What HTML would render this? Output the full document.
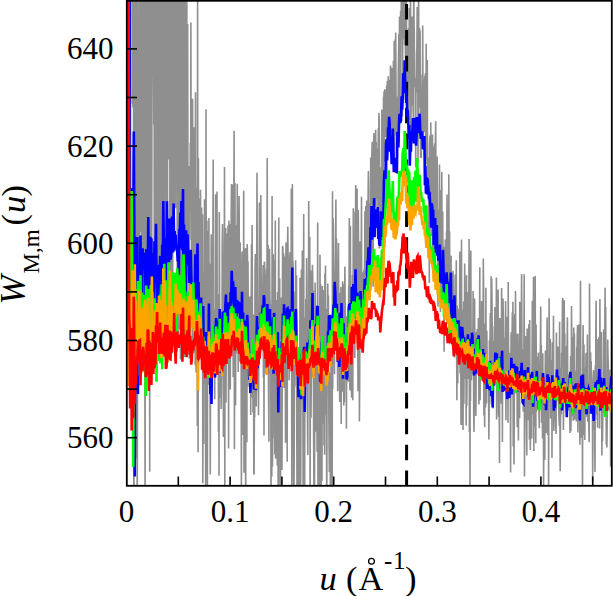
<!DOCTYPE html>
<html><head><meta charset="utf-8"><style>
html,body{margin:0;padding:0;background:#fff;width:613px;height:596px;overflow:hidden}
svg{display:block}
text{font-family:"Liberation Serif",serif;fill:#000}
</style></head><body>
<svg width="613" height="596" viewBox="0 0 613 596">
<defs><clipPath id="c"><rect x="127" y="1" width="484.5" height="484.5"/></clipPath></defs>
<g clip-path="url(#c)">
<path d="M126.5 -30.0L126.8 -30.0 127.1 -30.0 127.4 -30.0 127.7 -30.0 128.0 -30.0 128.2 -30.0 128.5 -30.0 128.8 -30.0 129.1 -30.0 129.4 -30.0 129.7 -30.0 130.0 -30.0 130.3 -30.0 130.6 -30.0 130.9 -30.0 131.1 -30.0 131.4 -30.0 131.7 -30.0 132.0 -30.0 132.3 103.7 132.6 -3.8 132.9 107.4 133.2 -30.0 133.5 -30.0 133.8 520.0 134.0 520.0 134.3 84.9 134.6 177.0 134.9 -30.0 135.2 -30.0 135.5 -30.0 135.8 458.7 136.1 170.1 136.4 -30.0 136.7 -30.0 136.9 -30.0 137.2 510.6 137.5 392.8 137.8 -30.0 138.1 -17.4 138.4 357.2 138.7 287.1 139.0 51.8 139.3 350.6 139.6 63.1 139.8 -0.6 140.1 25.5 140.4 232.3 140.7 -30.0 141.0 -30.0 141.3 -30.0 141.6 342.2 141.9 -30.0 142.2 218.8 142.5 -30.0 142.7 350.9 143.0 -30.0 143.3 29.5 143.6 346.9 143.9 151.9 144.2 6.9 144.5 -30.0 144.8 345.4 145.1 510.6 145.4 -30.0 145.6 222.6 145.9 -30.0 146.2 -30.0 146.5 357.0 146.8 -30.0 147.1 -30.0 147.4 136.8 147.7 343.5 148.0 -30.0 148.3 -30.0 148.5 -30.0 148.8 165.2 149.1 346.9 149.4 57.9 149.7 471.7 150.0 -30.0 150.3 -30.0 150.6 349.8 150.9 346.9 151.2 -30.0 151.4 -30.0 151.7 266.1 152.0 20.5 152.3 -30.0 152.6 -30.0 152.9 -30.0 153.2 -30.0 153.5 66.0 153.8 124.6 154.1 -30.0 154.3 352.5 154.6 75.5 154.9 14.6 155.2 347.9 155.5 -30.0 155.8 280.4 156.1 -30.0 156.4 79.5 156.7 -30.0 157.0 -30.0 157.2 -30.0 157.5 347.6 157.8 350.9 158.1 -30.0 158.4 67.9 158.7 286.2 159.0 -30.0 159.3 83.1 159.6 -30.0 159.9 4.5 160.1 12.7 160.4 293.9 160.7 -30.0 161.0 358.9 161.3 -30.0 161.6 -30.0 161.9 346.7 162.2 350.3 162.5 -30.0 162.8 -30.0 163.1 345.4 163.3 354.5 163.6 -30.0 163.9 318.7 164.2 192.9 164.5 134.1 164.8 -30.0 165.1 157.7 165.4 -30.0 165.7 76.5 166.0 342.1 166.2 138.9 166.5 350.1 166.8 -2.8 167.1 354.5 167.4 354.4 167.7 -30.0 168.0 25.6 168.3 21.0 168.6 -30.0 168.9 159.5 169.1 83.1 169.4 -30.0 169.7 -30.0 170.0 357.4 170.3 -30.0 170.6 222.1 170.9 357.6 171.2 346.9 171.5 133.6 171.8 -30.0 172.0 351.3 172.3 -30.0 172.6 353.4 172.9 -10.0 173.2 -30.0 173.5 79.3 173.8 232.7 174.1 -30.0 174.4 -30.0 174.7 -30.0 174.9 -30.0 175.2 -30.0 175.5 208.3 175.8 32.4 176.1 20.1 176.4 -30.0 176.7 -1.4 177.0 -30.0 177.3 351.6 177.6 -30.0 177.8 217.7 178.1 347.1 178.4 -30.0 178.7 -30.0 179.0 -30.0 179.3 -30.0 179.6 329.2 179.9 -30.0 180.2 -30.0 180.5 359.6 180.7 293.0 181.0 27.0 181.3 357.9 181.6 -2.2 181.9 177.4 182.2 -30.0 182.5 -30.0 182.8 359.1 183.1 48.7 183.4 345.5 183.6 -30.0 183.9 36.8 184.2 -30.0 184.5 357.1 184.8 -30.0 185.1 -30.0 185.4 338.6 185.7 8.5 186.0 251.8 186.3 117.3 186.5 345.6 186.8 -30.0 187.1 308.2 187.4 188.5 187.7 24.0 188.0 271.4 188.3 189.4 188.6 243.4 188.9 166.1 189.2 358.6 189.4 223.5 189.7 176.8 190.0 205.8 190.3 142.8 190.6 209.7 190.9 22.4 191.2 240.1 191.5 210.4 191.8 290.6 192.1 265.6 192.3 351.9 192.6 98.7 192.9 352.9 193.2 303.1 193.5 130.9 193.8 127.3 194.1 260.6 194.4 353.4 194.7 149.5 195.0 175.7 195.2 365.2 195.5 92.2 195.8 310.4 196.1 372.4 196.4 206.6 196.7 241.4 197.0 188.1 197.3 426.0 197.6 -2.3 197.9 332.0 198.1 452.3 198.4 158.1 198.7 273.0 199.0 198.5 199.3 287.0 199.6 259.5 199.9 221.0 200.2 335.7 200.5 189.7 200.8 309.0 201.1 347.1 201.3 237.5 201.6 207.6 201.9 283.2 202.2 365.8 202.5 214.3 202.8 483.2 203.1 392.7 203.4 271.7 203.7 444.1 204.0 281.8 204.2 290.2 204.5 199.2 204.8 383.4 205.1 353.0 205.4 255.6 205.7 520.0 206.0 109.2 206.3 342.4 206.6 363.4 206.9 220.5 207.1 294.3 207.4 491.6 207.7 237.4 208.0 230.9 208.3 369.7 208.6 321.5 208.9 217.9 209.2 385.0 209.5 263.9 209.8 272.9 210.0 370.7 210.3 474.4 210.6 340.0 210.9 396.3 211.2 234.2 211.5 308.4 211.8 252.1 212.1 289.3 212.4 265.3 212.7 366.2 212.9 236.8 213.2 159.5 213.5 322.2 213.8 353.8 214.1 311.9 214.4 366.5 214.7 399.2 215.0 309.4 215.3 338.2 215.6 194.3 215.8 283.6 216.1 255.3 216.4 220.4 216.7 321.9 217.0 191.5 217.3 354.6 217.6 372.7 217.9 325.3 218.2 297.4 218.5 432.1 218.7 293.9 219.0 475.8 219.3 212.1 219.6 295.9 219.9 354.5 220.2 397.9 220.5 351.5 220.8 339.7 221.1 408.9 221.4 387.4 221.6 324.9 221.9 364.7 222.2 245.5 222.5 224.0 222.8 288.2 223.1 262.2 223.4 437.0 223.7 257.7 224.0 299.8 224.3 251.4 224.5 166.9 224.8 500.2 225.1 249.8 225.4 381.8 225.7 227.9 226.0 402.4 226.3 338.9 226.6 280.7 226.9 233.5 227.2 263.8 227.4 354.8 227.7 335.6 228.0 225.6 228.3 280.6 228.6 448.4 228.9 220.4 229.2 251.1 229.5 225.9 229.8 325.0 230.1 243.0 230.3 389.4 230.6 224.0 230.9 312.5 231.2 215.5 231.5 183.9 231.8 321.6 232.1 253.3 232.4 252.1 232.7 184.5 233.0 211.5 233.2 377.3 233.5 217.0 233.8 201.6 234.1 130.8 234.4 449.2 234.7 329.4 235.0 183.0 235.3 405.2 235.6 404.5 235.9 259.7 236.2 225.3 236.4 353.5 236.7 235.4 237.0 265.0 237.3 183.8 237.6 279.5 237.9 208.8 238.2 372.1 238.5 300.3 238.8 280.7 239.1 196.0 239.3 242.4 239.6 361.8 239.9 243.2 240.2 242.4 240.5 309.8 240.8 332.8 241.1 333.8 241.4 493.3 241.7 290.4 242.0 251.9 242.2 365.4 242.5 251.2 242.8 435.0 243.1 351.4 243.4 362.1 243.7 190.7 244.0 472.7 244.3 270.8 244.6 248.5 244.9 296.3 245.1 254.1 245.4 409.1 245.7 520.0 246.0 247.9 246.3 430.6 246.6 357.8 246.9 442.3 247.2 244.1 247.5 256.1 247.8 386.9 248.0 261.6 248.3 316.7 248.6 340.3 248.9 325.6 249.2 354.5 249.5 296.8 249.8 318.5 250.1 387.7 250.4 296.2 250.7 415.0 250.9 326.3 251.2 310.4 251.5 244.3 251.8 397.4 252.1 225.1 252.4 315.2 252.7 355.2 253.0 412.6 253.3 314.6 253.6 354.6 253.8 473.6 254.1 474.6 254.4 412.8 254.7 416.9 255.0 271.2 255.3 253.9 255.6 294.2 255.9 347.9 256.2 406.4 256.5 329.4 256.7 262.2 257.0 172.7 257.3 269.0 257.6 368.1 257.9 325.6 258.2 374.9 258.5 415.2 258.8 345.0 259.1 294.3 259.4 202.6 259.6 331.0 259.9 241.9 260.2 206.7 260.5 297.6 260.8 194.9 261.1 254.3 261.4 349.8 261.7 300.2 262.0 302.3 262.3 315.4 262.5 316.1 262.8 287.8 263.1 265.0 263.4 377.7 263.7 283.4 264.0 435.6 264.3 262.6 264.6 261.8 264.9 307.5 265.2 299.2 265.4 274.8 265.7 367.4 266.0 324.5 266.3 275.9 266.6 268.5 266.9 327.3 267.2 158.0 267.5 305.6 267.8 255.1 268.1 245.1 268.3 329.2 268.6 400.3 268.9 441.7 269.2 309.6 269.5 248.8 269.8 292.9 270.1 302.4 270.4 374.4 270.7 304.3 271.0 520.0 271.2 319.6 271.5 344.2 271.8 476.6 272.1 196.0 272.4 466.4 272.7 430.5 273.0 438.2 273.3 254.2 273.6 424.4 273.9 275.4 274.2 260.4 274.4 295.2 274.7 454.6 275.0 382.1 275.3 220.6 275.6 458.8 275.9 420.5 276.2 361.9 276.5 300.0 276.8 336.6 277.1 311.7 277.3 465.4 277.6 292.0 277.9 326.9 278.2 520.0 278.5 284.8 278.8 217.5 279.1 428.9 279.4 346.5 279.7 278.3 280.0 518.1 280.2 520.0 280.5 486.1 280.8 397.9 281.1 394.9 281.4 297.6 281.7 319.4 282.0 469.9 282.3 331.0 282.6 245.9 282.9 248.4 283.1 262.2 283.4 336.7 283.7 253.4 284.0 388.0 284.3 270.9 284.6 338.1 284.9 256.4 285.2 296.8 285.5 442.8 285.8 317.1 286.0 242.5 286.3 418.1 286.6 353.5 286.9 384.5 287.2 461.8 287.5 247.4 287.8 226.4 288.1 258.1 288.4 307.6 288.7 343.7 288.9 303.5 289.2 380.2 289.5 264.9 289.8 256.3 290.1 252.0 290.4 366.0 290.7 320.2 291.0 323.4 291.3 188.6 291.6 298.1 291.8 503.4 292.1 265.8 292.4 184.1 292.7 275.3 293.0 261.6 293.3 300.4 293.6 520.0 293.9 520.0 294.2 452.7 294.5 336.2 294.7 315.7 295.0 291.4 295.3 355.6 295.6 260.3 295.9 338.2 296.2 386.6 296.5 275.2 296.8 434.0 297.1 520.0 297.4 468.2 297.6 352.9 297.9 520.0 298.2 396.2 298.5 398.0 298.8 492.9 299.1 490.4 299.4 393.8 299.7 405.1 300.0 277.8 300.3 341.9 300.5 520.0 300.8 465.2 301.1 335.8 301.4 269.5 301.7 348.7 302.0 341.4 302.3 250.6 302.6 355.9 302.9 404.0 303.2 520.0 303.4 411.8 303.7 214.0 304.0 473.4 304.3 340.3 304.6 516.8 304.9 368.6 305.2 317.2 305.5 376.2 305.8 299.1 306.1 311.8 306.3 333.1 306.6 258.0 306.9 306.1 307.2 377.5 307.5 425.3 307.8 454.9 308.1 329.8 308.4 380.2 308.7 201.0 309.0 248.6 309.3 363.1 309.5 368.4 309.8 236.8 310.1 518.3 310.4 368.7 310.7 270.5 311.0 417.8 311.3 379.3 311.6 364.6 311.9 282.9 312.2 296.6 312.4 264.8 312.7 275.7 313.0 330.5 313.3 290.5 313.6 431.4 313.9 484.6 314.2 511.6 314.5 496.3 314.8 390.6 315.1 282.6 315.3 318.5 315.6 381.1 315.9 431.7 316.2 375.1 316.5 355.7 316.8 367.2 317.1 451.7 317.4 339.8 317.7 222.5 318.0 517.2 318.2 334.7 318.5 520.0 318.8 322.4 319.1 428.0 319.4 520.0 319.7 348.5 320.0 254.8 320.3 346.3 320.6 284.0 320.9 356.9 321.1 520.0 321.4 337.5 321.7 388.5 322.0 481.0 322.3 285.9 322.6 321.9 322.9 394.1 323.2 290.1 323.5 423.7 323.8 320.1 324.0 445.4 324.3 320.2 324.6 454.8 324.9 273.6 325.2 334.2 325.5 265.5 325.8 415.2 326.1 390.0 326.4 318.5 326.7 520.0 326.9 465.9 327.2 309.1 327.5 331.8 327.8 283.6 328.1 350.9 328.4 295.5 328.7 386.6 329.0 435.0 329.3 471.9 329.6 387.3 329.8 375.7 330.1 372.2 330.4 520.0 330.7 484.9 331.0 380.6 331.3 317.7 331.6 365.2 331.9 379.7 332.2 487.7 332.5 191.2 332.7 388.7 333.0 217.8 333.3 224.9 333.6 287.2 333.9 338.5 334.2 277.7 334.5 374.3 334.8 272.0 335.1 283.7 335.4 255.6 335.6 236.6 335.9 199.5 336.2 325.2 336.5 238.5 336.8 347.3 337.1 361.7 337.4 350.2 337.7 391.2 338.0 270.3 338.3 256.7 338.5 242.9 338.8 328.2 339.1 313.8 339.4 367.3 339.7 402.0 340.0 293.8 340.3 293.4 340.6 382.6 340.9 287.0 341.2 424.1 341.4 299.3 341.7 341.3 342.0 347.6 342.3 391.8 342.6 281.2 342.9 321.3 343.2 284.0 343.5 315.6 343.8 405.4 344.1 347.9 344.4 402.2 344.6 302.4 344.9 266.5 345.2 316.3 345.5 376.7 345.8 358.5 346.1 316.3 346.4 428.8 346.7 338.4 347.0 337.0 347.3 376.9 347.5 346.9 347.8 306.6 348.1 380.2 348.4 381.6 348.7 286.0 349.0 304.9 349.3 218.1 349.6 352.0 349.9 390.0 350.2 226.0 350.4 226.9 350.7 328.5 351.0 390.9 351.3 324.0 351.6 397.8 351.9 286.0 352.2 392.0 352.5 274.9 352.8 400.2 353.1 285.0 353.3 208.2 353.6 289.3 353.9 245.7 354.2 319.1 354.5 328.7 354.8 358.1 355.1 211.4 355.4 267.2 355.7 185.0 356.0 332.9 356.2 273.3 356.5 253.8 356.8 191.2 357.1 188.4 357.4 289.1 357.7 328.2 358.0 391.3 358.3 209.8 358.6 259.3 358.9 295.9 359.1 267.9 359.4 421.6 359.7 382.6 360.0 241.4 360.3 265.7 360.6 271.1 360.9 343.6 361.2 266.8 361.5 196.7 361.8 350.0 362.0 284.5 362.3 314.7 362.6 280.0 362.9 284.9 363.2 272.2 363.5 314.0 363.8 270.2 364.1 304.3 364.4 274.7 364.7 255.1 364.9 211.2 365.2 275.7 365.5 269.3 365.8 206.1 366.1 266.8 366.4 263.1 366.7 200.4 367.0 225.8 367.3 228.7 367.6 215.7 367.8 284.4 368.1 196.3 368.4 170.9 368.7 188.2 369.0 297.5 369.3 212.4 369.6 270.5 369.9 225.8 370.2 203.2 370.5 266.3 370.7 157.6 371.0 203.4 371.3 160.5 371.6 168.4 371.9 151.8 372.2 141.8 372.5 271.3 372.8 193.2 373.1 286.8 373.4 215.5 373.6 159.4 373.9 133.1 374.2 154.7 374.5 203.9 374.8 167.5 375.1 168.2 375.4 147.8 375.7 129.7 376.0 206.9 376.3 142.0 376.5 181.1 376.8 199.1 377.1 163.1 377.4 149.7 377.7 149.4 378.0 220.9 378.3 128.0 378.6 196.6 378.9 112.9 379.2 119.9 379.4 248.4 379.7 238.7 380.0 242.6 380.3 191.1 380.6 188.0 380.9 167.2 381.2 222.7 381.5 168.1 381.8 109.4 382.1 239.9 382.4 197.1 382.6 165.4 382.9 171.8 383.2 178.9 383.5 96.7 383.8 98.6 384.1 91.3 384.4 161.5 384.7 89.3 385.0 91.9 385.3 137.1 385.5 128.3 385.8 122.7 386.1 98.6 386.4 97.3 386.7 85.2 387.0 187.9 387.3 81.0 387.6 135.0 387.9 137.2 388.2 76.3 388.4 112.8 388.7 79.7 389.0 89.7 389.3 144.4 389.6 79.8 389.9 148.8 390.2 96.0 390.5 65.6 390.8 143.5 391.1 67.6 391.3 107.9 391.6 151.4 391.9 101.7 392.2 68.0 392.5 137.9 392.8 78.5 393.1 139.2 393.4 60.7 393.7 97.2 394.0 123.7 394.2 41.0 394.5 161.8 394.8 143.1 395.1 39.6 395.4 121.7 395.7 32.6 396.0 90.6 396.3 135.7 396.6 115.8 396.9 96.4 397.1 103.7 397.4 107.6 397.7 113.9 398.0 146.3 398.3 71.0 398.6 52.2 398.9 34.1 399.2 142.6 399.5 16.6 399.8 54.4 400.0 108.5 400.3 47.4 400.6 10.9 400.9 26.4 401.2 8.7 401.5 -15.1 401.8 -9.2 402.1 47.5 402.4 116.4 402.7 49.9 402.9 1.6 403.2 39.2 403.5 -20.6 403.8 -20.2 404.1 32.3 404.4 -30.0 404.7 45.0 405.0 -30.0 405.3 45.5 405.6 59.9 405.8 2.8 406.1 70.3 406.4 -1.0 406.7 88.5 407.0 45.0 407.3 86.6 407.6 53.5 407.9 58.3 408.2 101.3 408.5 28.1 408.7 120.0 409.0 104.1 409.3 8.1 409.6 21.5 409.9 51.5 410.2 68.9 410.5 -30.0 410.8 132.7 411.1 105.6 411.4 105.2 411.6 23.5 411.9 65.1 412.2 16.6 412.5 21.4 412.8 84.8 413.1 111.3 413.4 120.3 413.7 -30.0 414.0 18.1 414.3 34.1 414.5 77.5 414.8 79.3 415.1 87.2 415.4 78.0 415.7 167.3 416.0 82.6 416.3 92.4 416.6 53.7 416.9 47.9 417.2 7.0 417.5 59.3 417.7 18.3 418.0 162.9 418.3 100.6 418.6 -30.0 418.9 107.8 419.2 73.2 419.5 27.8 419.8 104.8 420.1 30.6 420.4 131.6 420.6 157.7 420.9 139.2 421.2 158.3 421.5 88.8 421.8 100.2 422.1 74.4 422.4 139.6 422.7 25.4 423.0 104.9 423.3 99.4 423.5 79.6 423.8 122.8 424.1 132.3 424.4 100.3 424.7 75.9 425.0 97.0 425.3 73.6 425.6 148.9 425.9 164.5 426.2 43.7 426.4 139.5 426.7 112.5 427.0 102.8 427.3 60.0 427.6 191.7 427.9 157.4 428.2 160.1 428.5 159.7 428.8 257.0 429.1 164.1 429.3 283.0 429.6 144.6 429.9 137.1 430.2 135.5 430.5 218.0 430.8 122.3 431.1 219.7 431.4 235.9 431.7 226.5 432.0 224.3 432.2 177.1 432.5 134.5 432.8 270.6 433.1 208.6 433.4 146.6 433.7 193.3 434.0 174.3 434.3 263.8 434.6 143.5 434.9 265.4 435.1 196.0 435.4 141.4 435.7 121.3 436.0 195.3 436.3 175.6 436.6 248.5 436.9 241.8 437.2 156.5 437.5 224.5 437.8 241.0 438.0 306.4 438.3 243.9 438.6 209.2 438.9 273.5 439.2 265.5 439.5 164.4 439.8 247.2 440.1 273.2 440.4 312.1 440.7 286.8 440.9 268.1 441.2 190.1 441.5 295.2 441.8 172.1 442.1 306.7 442.4 274.9 442.7 211.6 443.0 267.0 443.3 296.9 443.6 269.5 443.8 246.8 444.1 351.7 444.4 281.6 444.7 278.8 445.0 301.0 445.3 239.6 445.6 297.4 445.9 294.6 446.2 278.9 446.5 231.5 446.7 278.0 447.0 194.6 447.3 321.1 447.6 212.6 447.9 323.6 448.2 294.5 448.5 264.1 448.8 174.2 449.1 246.4 449.4 318.6 449.6 231.5 449.9 313.4 450.2 343.2 450.5 278.6 450.8 294.4 451.1 255.8 451.4 335.5 451.7 287.5 452.0 273.3 452.3 292.3 452.5 305.9 452.8 333.7 453.1 270.7 453.4 323.4 453.7 302.7 454.0 339.8 454.3 314.2 454.6 357.6 454.9 302.3 455.2 274.4 455.5 317.4 455.7 280.5 456.0 311.1 456.3 260.2 456.6 337.9 456.9 400.3 457.2 305.4 457.5 340.5 457.8 383.2 458.1 308.7 458.4 320.1 458.6 309.3 458.9 357.2 459.2 333.8 459.5 326.5 459.8 251.5 460.1 373.6 460.4 347.3 460.7 331.6 461.0 424.8 461.3 417.7 461.5 239.5 461.8 425.1 462.1 309.8 462.4 375.3 462.7 370.5 463.0 430.0 463.3 382.1 463.6 301.5 463.9 404.1 464.2 313.1 464.4 334.8 464.7 263.4 465.0 379.0 465.3 292.3 465.6 306.6 465.9 360.4 466.2 425.4 466.5 275.2 466.8 405.8 467.1 368.7 467.3 311.6 467.6 292.2 467.9 378.9 468.2 350.0 468.5 367.1 468.8 304.0 469.1 239.0 469.4 432.1 469.7 307.8 470.0 486.1 470.2 352.2 470.5 400.9 470.8 250.4 471.1 333.3 471.4 380.1 471.7 370.7 472.0 374.3 472.3 339.1 472.6 356.1 472.9 327.2 473.1 291.0 473.4 326.2 473.7 413.3 474.0 431.9 474.3 387.2 474.6 298.4 474.9 366.2 475.2 384.6 475.5 345.8 475.8 416.0 476.0 404.5 476.3 332.0 476.6 372.3 476.9 372.0 477.2 328.9 477.5 369.5 477.8 374.4 478.1 365.8 478.4 318.1 478.7 341.3 478.9 404.4 479.2 373.3 479.5 326.5 479.8 267.2 480.1 400.3 480.4 331.9 480.7 357.9 481.0 316.1 481.3 345.1 481.6 301.0 481.8 341.9 482.1 380.8 482.4 375.5 482.7 341.6 483.0 346.9 483.3 258.6 483.6 289.9 483.9 415.5 484.2 341.3 484.5 410.0 484.7 427.2 485.0 323.5 485.3 335.8 485.6 407.6 485.9 287.7 486.2 399.6 486.5 403.5 486.8 330.5 487.1 356.4 487.4 371.0 487.6 367.7 487.9 361.6 488.2 374.1 488.5 364.6 488.8 439.6 489.1 416.2 489.4 340.3 489.7 404.3 490.0 342.6 490.3 313.1 490.6 392.2 490.8 362.3 491.1 276.2 491.4 330.8 491.7 278.2 492.0 301.0 492.3 341.0 492.6 377.2 492.9 404.8 493.2 408.5 493.5 340.7 493.7 347.3 494.0 372.9 494.3 326.3 494.6 384.9 494.9 307.1 495.2 348.3 495.5 355.1 495.8 362.8 496.1 364.9 496.4 277.4 496.6 419.4 496.9 338.4 497.2 300.8 497.5 328.0 497.8 373.0 498.1 289.6 498.4 412.7 498.7 417.0 499.0 329.8 499.3 421.2 499.5 463.0 499.8 318.1 500.1 319.6 500.4 318.6 500.7 375.9 501.0 356.2 501.3 403.8 501.6 287.9 501.9 327.1 502.2 328.6 502.4 441.9 502.7 325.1 503.0 298.6 503.3 315.4 503.6 339.4 503.9 367.3 504.2 378.2 504.5 338.3 504.8 347.1 505.1 353.5 505.3 379.2 505.6 301.1 505.9 420.2 506.2 370.7 506.5 388.5 506.8 320.9 507.1 316.7 507.4 324.7 507.7 333.4 508.0 422.8 508.2 282.0 508.5 345.3 508.8 371.3 509.1 372.0 509.4 389.4 509.7 352.7 510.0 355.8 510.3 384.6 510.6 472.5 510.9 358.3 511.1 334.7 511.4 332.2 511.7 368.3 512.0 344.6 512.3 312.5 512.6 374.1 512.9 301.8 513.2 446.4 513.5 420.3 513.8 401.8 514.0 464.6 514.3 407.3 514.6 316.3 514.9 314.1 515.2 357.2 515.5 290.9 515.8 356.6 516.1 393.5 516.4 362.6 516.7 375.2 516.9 334.1 517.2 427.3 517.5 333.6 517.8 395.8 518.1 346.0 518.4 440.5 518.7 391.2 519.0 368.2 519.3 334.1 519.6 418.3 519.8 301.7 520.1 346.2 520.4 386.2 520.7 317.1 521.0 363.2 521.3 323.0 521.6 273.9 521.9 338.8 522.2 403.2 522.5 397.1 522.7 348.9 523.0 363.3 523.3 411.8 523.6 402.5 523.9 345.3 524.2 274.3 524.5 476.6 524.8 348.3 525.1 381.8 525.4 336.2 525.7 339.1 525.9 374.8 526.2 414.4 526.5 430.0 526.8 455.5 527.1 328.6 527.4 378.6 527.7 386.7 528.0 371.1 528.3 420.3 528.6 358.5 528.8 324.3 529.1 332.9 529.4 439.7 529.7 320.1 530.0 402.9 530.3 450.1 530.6 421.9 530.9 411.5 531.2 373.8 531.5 420.6 531.7 438.4 532.0 380.2 532.3 300.8 532.6 414.5 532.9 362.4 533.2 373.1 533.5 276.8 533.8 450.9 534.1 327.6 534.4 426.5 534.6 404.5 534.9 380.0 535.2 276.1 535.5 397.3 535.8 443.3 536.1 324.6 536.4 412.0 536.7 382.1 537.0 374.0 537.3 372.7 537.5 377.9 537.8 356.8 538.1 364.2 538.4 352.4 538.7 399.1 539.0 412.3 539.3 428.2 539.6 363.4 539.9 390.2 540.2 355.1 540.4 347.4 540.7 306.5 541.0 366.1 541.3 344.9 541.6 422.8 541.9 416.2 542.2 392.6 542.5 438.4 542.8 353.2 543.1 430.6 543.3 377.8 543.6 485.2 543.9 430.8 544.2 400.7 544.5 398.9 544.8 460.1 545.1 380.3 545.4 350.4 545.7 363.8 546.0 411.2 546.2 406.9 546.5 433.1 546.8 355.1 547.1 317.4 547.4 388.7 547.7 435.0 548.0 371.0 548.3 355.7 548.6 487.4 548.9 370.8 549.1 298.3 549.4 350.4 549.7 359.7 550.0 365.2 550.3 339.1 550.6 418.6 550.9 413.1 551.2 359.9 551.5 408.6 551.8 377.5 552.0 457.9 552.3 342.3 552.6 349.0 552.9 384.0 553.2 371.5 553.5 315.8 553.8 431.0 554.1 418.7 554.4 417.4 554.7 393.6 554.9 421.2 555.2 379.5 555.5 404.3 555.8 427.1 556.1 433.9 556.4 332.6 556.7 385.2 557.0 393.0 557.3 379.4 557.6 381.1 557.8 346.5 558.1 353.5 558.4 400.5 558.7 408.8 559.0 417.6 559.3 425.6 559.6 321.8 559.9 421.9 560.2 471.2 560.5 419.4 560.7 415.0 561.0 368.3 561.3 414.3 561.6 352.8 561.9 367.4 562.2 339.1 562.5 298.9 562.8 298.0 563.1 325.2 563.4 430.0 563.7 406.7 563.9 376.5 564.2 300.3 564.5 354.0 564.8 333.6 565.1 389.4 565.4 359.9 565.7 354.3 566.0 402.3 566.3 355.1 566.6 346.0 566.8 395.5 567.1 344.9 567.4 317.3 567.7 377.9 568.0 382.7 568.3 400.2 568.6 410.6 568.9 374.5 569.2 401.6 569.5 398.8 569.7 409.2 570.0 432.9 570.3 401.3 570.6 356.1 570.9 431.3 571.2 403.8 571.5 306.0 571.8 336.9 572.1 416.3 572.4 361.5 572.6 416.0 572.9 336.9 573.2 420.7 573.5 383.6 573.8 327.6 574.1 412.2 574.4 333.5 574.7 419.7 575.0 370.4 575.3 389.9 575.5 382.5 575.8 372.4 576.1 381.1 576.4 421.4 576.7 347.3 577.0 355.5 577.3 333.0 577.6 325.0 577.9 432.6 578.2 326.6 578.4 333.6 578.7 413.6 579.0 343.7 579.3 324.0 579.6 411.8 579.9 444.8 580.2 390.9 580.5 280.8 580.8 381.6 581.1 437.7 581.3 394.0 581.6 422.0 581.9 396.9 582.2 380.1 582.5 488.1 582.8 363.1 583.1 324.9 583.4 393.0 583.7 402.5 584.0 344.6 584.2 434.8 584.5 432.1 584.8 440.0 585.1 389.6 585.4 367.5 585.7 382.5 586.0 353.8 586.3 353.0 586.6 371.3 586.9 417.1 587.1 392.2 587.4 334.4 587.7 421.7 588.0 382.0 588.3 392.8 588.6 387.7 588.9 429.4 589.2 442.3 589.5 283.5 589.8 343.9 590.0 408.9 590.3 381.3 590.6 352.2 590.9 396.5 591.2 361.2 591.5 409.6 591.8 399.9 592.1 392.0 592.4 405.0 592.7 481.8 592.9 382.1 593.2 376.5 593.5 370.1 593.8 429.8 594.1 370.7 594.4 372.6 594.7 452.4 595.0 471.9 595.3 365.3 595.6 420.0 595.8 339.3 596.1 300.8 596.4 411.4 596.7 414.6 597.0 382.9 597.3 350.6 597.6 427.8 597.9 339.1 598.2 341.9 598.5 348.6 598.8 394.4 599.0 336.8 599.3 343.2 599.6 428.5 599.9 299.0 600.2 395.2 600.5 370.4 600.8 400.5 601.1 360.2 601.4 332.0 601.7 414.4 601.9 455.4 602.2 406.8 602.5 441.3 602.8 413.1 603.1 382.3 603.4 383.2 603.7 329.5 604.0 413.2 604.3 358.3 604.6 400.5 604.8 330.2 605.1 287.8 605.4 366.0 605.7 306.9 606.0 397.3 606.3 444.7 606.6 434.0 606.9 447.4 607.2 421.0 607.5 392.7 607.7 339.4 608.0 356.5 608.3 365.4 608.6 401.2 608.9 410.7 609.2 373.8 609.5 373.5 609.8 376.4 610.1 369.6 610.4 386.9 610.6 466.5 610.9 431.8 611.2 407.3 611.5 305.8 611.8 396.1" stroke="#8f8f8f" stroke-width="1.6" fill="none" stroke-linejoin="miter"/>

<line x1="406.6" y1="4" x2="406.6" y2="486" stroke="#000" stroke-width="3" stroke-dasharray="15.6 10.32"/>
<path d="M126.5 -30.0L127.0 -30.0 127.5 -30.0 128.1 -30.0 128.6 -30.0 129.1 -30.0 129.6 -30.0 130.1 254.5 130.6 216.2 131.2 245.9 131.7 240.5 132.2 188.2 132.7 230.2 133.2 239.4 133.8 131.5 134.3 221.5 134.8 476.6 135.3 236.8 135.8 270.8 136.3 243.6 136.9 296.9 137.4 237.1 137.9 394.0 138.4 265.0 138.9 268.7 139.4 303.2 140.0 276.8 140.5 235.6 141.0 310.4 141.5 325.5 142.0 322.3 142.6 248.2 143.1 269.6 143.6 252.9 144.1 268.9 144.6 254.2 145.1 266.1 145.7 302.9 146.2 248.9 146.7 303.0 147.2 283.6 147.7 279.1 148.3 217.0 148.8 309.8 149.3 296.9 149.8 293.1 150.3 236.8 150.8 291.7 151.4 238.2 151.9 322.1 152.4 254.6 152.9 253.4 153.4 323.6 154.0 271.9 154.5 241.2 155.0 282.0 155.5 250.6 156.0 223.8 156.5 278.9 157.1 308.4 157.6 312.7 158.1 268.6 158.6 281.8 159.1 264.9 159.7 275.5 160.2 255.9 160.7 297.1 161.2 326.5 161.7 332.6 162.2 244.7 162.8 269.2 163.3 201.1 163.8 240.9 164.3 267.4 164.8 238.3 165.3 251.4 165.9 296.1 166.4 288.1 166.9 201.3 167.4 244.5 167.9 245.1 168.5 253.7 169.0 262.6 169.5 218.6 170.0 252.6 170.5 259.5 171.0 256.5 171.6 247.9 172.1 216.6 172.6 221.3 173.1 252.5 173.6 203.4 174.2 250.8 174.7 231.1 175.2 242.8 175.7 234.9 176.2 244.0 176.7 245.5 177.3 253.1 177.8 261.3 178.3 254.1 178.8 274.6 179.3 229.0 179.9 230.7 180.4 212.6 180.9 248.6 181.4 201.0 181.9 229.6 182.4 250.3 183.0 189.0 183.5 279.2 184.0 224.5 184.5 293.2 185.0 246.3 185.6 296.5 186.1 230.2 186.6 261.2 187.1 265.0 187.6 234.3 188.1 255.1 188.7 254.2 189.2 283.0 189.7 251.0 190.2 262.9 190.7 249.7 191.2 272.8 191.8 294.2 192.3 284.1 192.8 295.8 193.3 304.8 193.8 291.5 194.4 296.3 194.9 286.6 195.4 254.3 195.9 308.9 196.4 285.3 196.9 296.9 197.5 243.4 198.0 339.2 198.5 282.0 199.0 316.5 199.5 332.6 200.1 299.5 200.6 328.4 201.1 297.5 201.6 338.9 202.1 313.2 202.6 355.6 203.2 306.0 203.7 354.5 204.2 332.8 204.7 363.2 205.2 340.6 205.8 369.6 206.3 332.1 206.8 356.1 207.3 354.6 207.8 346.4 208.3 371.8 208.9 303.5 209.4 360.9 209.9 358.8 210.4 394.3 210.9 356.0 211.5 403.9 212.0 348.0 212.5 332.9 213.0 339.9 213.5 326.3 214.0 331.1 214.6 372.6 215.1 377.5 215.6 332.6 216.1 318.1 216.6 347.2 217.2 320.8 217.7 326.9 218.2 353.2 218.7 330.7 219.2 372.1 219.7 309.0 220.3 342.6 220.8 372.9 221.3 343.0 221.8 354.2 222.3 352.4 222.8 311.7 223.4 333.8 223.9 344.2 224.4 310.9 224.9 326.2 225.4 305.3 226.0 294.6 226.5 342.4 227.0 311.0 227.5 306.8 228.0 302.4 228.5 311.6 229.1 324.4 229.6 308.6 230.1 354.4 230.6 292.2 231.1 303.7 231.7 270.8 232.2 290.7 232.7 285.1 233.2 284.3 233.7 293.1 234.2 332.6 234.8 310.3 235.3 287.0 235.8 326.2 236.3 323.8 236.8 299.8 237.4 310.0 237.9 300.9 238.4 313.2 238.9 305.6 239.4 302.4 239.9 305.3 240.5 340.3 241.0 320.0 241.5 346.3 242.0 291.8 242.5 346.5 243.1 312.4 243.6 347.2 244.1 338.7 244.6 354.2 245.1 348.5 245.6 320.4 246.2 330.0 246.7 326.8 247.2 314.9 247.7 327.0 248.2 352.1 248.7 343.7 249.3 379.9 249.8 360.0 250.3 393.0 250.8 382.3 251.3 371.1 251.9 362.5 252.4 344.5 252.9 359.7 253.4 367.5 253.9 389.4 254.4 386.4 255.0 375.3 255.5 362.2 256.0 390.2 256.5 343.3 257.0 315.9 257.6 368.3 258.1 339.7 258.6 360.0 259.1 328.0 259.6 329.3 260.1 326.2 260.7 312.8 261.2 318.5 261.7 329.7 262.2 315.7 262.7 305.2 263.3 313.4 263.8 295.3 264.3 298.9 264.8 334.1 265.3 341.1 265.8 321.3 266.4 329.3 266.9 373.9 267.4 303.9 267.9 338.3 268.4 310.0 269.0 325.1 269.5 332.1 270.0 308.9 270.5 364.7 271.0 322.0 271.5 353.2 272.1 354.7 272.6 327.0 273.1 317.4 273.6 373.8 274.1 312.9 274.6 337.9 275.2 349.2 275.7 351.0 276.2 367.9 276.7 358.9 277.2 369.4 277.8 332.3 278.3 412.6 278.8 356.2 279.3 359.1 279.8 379.1 280.3 386.9 280.9 369.0 281.4 353.1 281.9 341.4 282.4 373.7 282.9 313.6 283.5 346.6 284.0 304.2 284.5 328.6 285.0 318.5 285.5 350.4 286.0 325.6 286.6 314.8 287.1 308.7 287.6 308.3 288.1 316.9 288.6 348.3 289.2 309.1 289.7 337.9 290.2 325.8 290.7 350.0 291.2 316.4 291.7 326.6 292.3 267.5 292.8 347.5 293.3 312.1 293.8 347.9 294.3 340.2 294.9 347.2 295.4 341.7 295.9 308.9 296.4 335.7 296.9 361.1 297.4 368.6 298.0 369.4 298.5 397.3 299.0 353.8 299.5 355.2 300.0 361.5 300.5 393.3 301.1 399.2 301.6 387.5 302.1 360.5 302.6 366.0 303.1 388.8 303.7 351.3 304.2 346.8 304.7 411.9 305.2 368.0 305.7 350.7 306.2 362.8 306.8 359.2 307.3 342.6 307.8 369.8 308.3 362.5 308.8 364.4 309.4 339.7 309.9 353.3 310.4 320.2 310.9 323.0 311.4 336.2 311.9 329.9 312.5 293.1 313.0 352.3 313.5 376.5 314.0 347.7 314.5 342.2 315.1 356.0 315.6 328.4 316.1 324.3 316.6 336.3 317.1 307.1 317.6 306.0 318.2 340.0 318.7 335.6 319.2 370.2 319.7 362.4 320.2 381.9 320.8 356.7 321.3 386.2 321.8 343.6 322.3 341.3 322.8 351.8 323.3 355.0 323.9 375.0 324.4 365.0 324.9 360.3 325.4 365.6 325.9 358.0 326.4 376.4 327.0 365.8 327.5 369.1 328.0 331.6 328.5 341.9 329.0 315.3 329.6 347.1 330.1 314.9 330.6 317.6 331.1 364.8 331.6 332.9 332.1 321.5 332.7 322.4 333.2 311.3 333.7 304.7 334.2 308.9 334.7 281.8 335.3 293.6 335.8 311.3 336.3 307.3 336.8 303.9 337.3 323.8 337.8 361.9 338.4 313.8 338.9 340.0 339.4 366.9 339.9 329.3 340.4 312.5 341.0 341.0 341.5 302.9 342.0 331.4 342.5 349.7 343.0 378.8 343.5 323.3 344.1 356.5 344.6 342.6 345.1 349.2 345.6 365.3 346.1 351.1 346.6 379.5 347.2 376.5 347.7 333.3 348.2 351.1 348.7 358.7 349.2 304.0 349.8 315.9 350.3 303.1 350.8 316.8 351.3 351.7 351.8 287.1 352.3 294.7 352.9 294.8 353.4 284.0 353.9 326.5 354.4 298.6 354.9 304.7 355.5 269.3 356.0 299.8 356.5 299.5 357.0 317.8 357.5 292.5 358.0 330.0 358.6 295.6 359.1 304.6 359.6 317.0 360.1 318.6 360.6 290.9 361.2 339.0 361.7 313.2 362.2 321.9 362.7 340.1 363.2 304.4 363.7 306.6 364.3 293.1 364.8 279.1 365.3 282.2 365.8 285.4 366.3 278.9 366.9 277.5 367.4 260.9 367.9 264.0 368.4 248.8 368.9 247.5 369.4 268.7 370.0 260.2 370.5 227.3 371.0 235.7 371.5 206.1 372.0 239.7 372.6 228.6 373.1 229.1 373.6 233.7 374.1 197.9 374.6 237.2 375.1 212.2 375.7 226.3 376.2 226.5 376.7 209.4 377.2 222.3 377.7 207.0 378.2 239.0 378.8 235.6 379.3 243.7 379.8 243.5 380.3 245.9 380.8 211.2 381.4 235.0 381.9 235.2 382.4 220.4 382.9 216.5 383.4 222.2 383.9 181.7 384.5 170.4 385.0 185.9 385.5 176.3 386.0 144.0 386.5 139.4 387.1 160.4 387.6 148.6 388.1 127.4 388.6 131.2 389.1 116.9 389.6 122.1 390.2 151.6 390.7 136.8 391.2 150.9 391.7 164.3 392.2 153.1 392.8 128.6 393.3 147.8 393.8 172.1 394.3 163.6 394.8 162.6 395.3 166.6 395.9 157.8 396.4 172.0 396.9 172.1 397.4 132.1 397.9 143.7 398.4 147.4 399.0 123.4 399.5 113.9 400.0 122.2 400.5 122.0 401.0 120.2 401.6 96.2 402.1 109.9 402.6 100.9 403.1 73.2 403.6 78.3 404.1 87.2 404.7 60.3 405.2 92.7 405.7 90.2 406.2 102.9 406.7 96.4 407.3 116.8 407.8 110.1 408.3 121.7 408.8 138.8 409.3 125.0 409.8 165.7 410.4 144.9 410.9 151.7 411.4 131.1 411.9 140.9 412.4 130.3 413.0 118.1 413.5 136.8 414.0 143.3 414.5 122.2 415.0 140.2 415.5 117.7 416.1 145.7 416.6 134.0 417.1 117.0 417.6 127.1 418.1 133.1 418.7 120.1 419.2 119.9 419.7 113.7 420.2 129.3 420.7 138.7 421.2 137.6 421.8 134.6 422.3 131.4 422.8 147.8 423.3 148.4 423.8 148.3 424.4 135.9 424.9 185.2 425.4 165.8 425.9 193.4 426.4 177.0 426.9 194.4 427.5 178.3 428.0 184.7 428.5 189.3 429.0 199.2 429.5 191.7 430.0 202.0 430.6 207.2 431.1 227.7 431.6 203.3 432.1 206.1 432.6 211.7 433.2 209.8 433.7 245.1 434.2 240.6 434.7 221.2 435.2 217.9 435.7 253.4 436.3 251.0 436.8 225.1 437.3 255.8 437.8 247.3 438.3 260.6 438.9 253.7 439.4 256.5 439.9 244.5 440.4 282.4 440.9 269.7 441.4 278.8 442.0 283.3 442.5 279.5 443.0 249.9 443.5 268.8 444.0 299.4 444.6 282.8 445.1 286.2 445.6 274.2 446.1 302.4 446.6 272.2 447.1 281.3 447.7 282.6 448.2 287.5 448.7 303.2 449.2 284.0 449.7 301.3 450.2 290.8 450.8 272.5 451.3 313.4 451.8 319.8 452.3 299.5 452.8 304.5 453.4 334.3 453.9 336.5 454.4 295.4 454.9 311.0 455.4 334.7 455.9 329.4 456.5 340.8 457.0 320.5 457.5 335.2 458.0 350.0 458.5 320.2 459.1 348.9 459.6 328.2 460.1 326.4 460.6 350.4 461.1 346.2 461.6 342.4 462.2 327.0 462.7 334.0 463.2 338.3 463.7 338.6 464.2 338.6 464.8 353.2 465.3 359.2 465.8 351.2 466.3 348.6 466.8 349.1 467.3 352.0 467.9 334.4 468.4 354.4 468.9 366.8 469.4 355.8 469.9 338.7 470.5 345.4 471.0 352.4 471.5 358.6 472.0 332.8 472.5 336.4 473.0 363.9 473.6 349.0 474.1 375.5 474.6 350.9 475.1 351.6 475.6 373.6 476.2 365.4 476.7 356.2 477.2 338.6 477.7 354.9 478.2 349.6 478.7 335.4 479.3 369.9 479.8 370.8 480.3 355.4 480.8 357.4 481.3 361.9 481.8 370.4 482.4 365.4 482.9 349.0 483.4 377.1 483.9 366.3 484.4 353.0 485.0 356.8 485.5 369.1 486.0 363.1 486.5 361.8 487.0 388.9 487.5 374.2 488.1 385.1 488.6 367.0 489.1 366.3 489.6 390.2 490.1 360.7 490.7 375.4 491.2 396.1 491.7 368.7 492.2 391.3 492.7 407.4 493.2 366.3 493.8 385.7 494.3 379.3 494.8 375.5 495.3 352.5 495.8 366.7 496.4 367.0 496.9 353.3 497.4 373.2 497.9 373.9 498.4 388.1 498.9 368.6 499.5 383.3 500.0 365.3 500.5 357.4 501.0 376.8 501.5 364.6 502.1 350.7 502.6 392.0 503.1 375.7 503.6 391.2 504.1 382.4 504.6 389.6 505.2 377.3 505.7 386.7 506.2 389.6 506.7 376.2 507.2 399.0 507.7 396.1 508.3 370.6 508.8 382.1 509.3 398.0 509.8 378.1 510.3 388.5 510.9 390.1 511.4 357.7 511.9 394.5 512.4 366.4 512.9 373.3 513.4 368.2 514.0 363.7 514.5 377.9 515.0 381.9 515.5 375.2 516.0 374.9 516.6 367.7 517.1 367.9 517.6 391.4 518.1 381.2 518.6 388.7 519.1 384.6 519.7 381.3 520.2 371.1 520.7 373.4 521.2 371.7 521.7 362.7 522.3 390.7 522.8 402.6 523.3 403.3 523.8 382.9 524.3 375.6 524.8 370.1 525.4 378.5 525.9 390.0 526.4 373.1 526.9 381.5 527.4 382.7 528.0 367.4 528.5 390.4 529.0 397.4 529.5 374.9 530.0 395.1 530.5 374.5 531.1 377.5 531.6 384.1 532.1 371.7 532.6 391.1 533.1 406.6 533.6 393.8 534.2 386.6 534.7 384.0 535.2 392.4 535.7 381.2 536.2 394.4 536.8 370.9 537.3 400.8 537.8 389.7 538.3 392.4 538.8 409.7 539.3 393.0 539.9 403.1 540.4 393.7 540.9 389.8 541.4 394.9 541.9 382.0 542.5 396.5 543.0 373.1 543.5 394.4 544.0 395.9 544.5 404.4 545.0 395.5 545.6 392.5 546.1 410.2 546.6 390.0 547.1 390.4 547.6 374.4 548.2 395.2 548.7 377.1 549.2 392.9 549.7 396.4 550.2 389.8 550.7 391.3 551.3 389.2 551.8 397.7 552.3 375.4 552.8 398.7 553.3 385.7 553.9 410.7 554.4 386.0 554.9 407.6 555.4 387.6 555.9 385.3 556.4 381.9 557.0 369.6 557.5 394.1 558.0 376.1 558.5 385.4 559.0 390.4 559.5 395.3 560.1 395.8 560.6 383.2 561.1 390.2 561.6 399.9 562.1 410.4 562.7 394.7 563.2 378.1 563.7 400.4 564.2 390.5 564.7 382.0 565.2 397.4 565.8 395.4 566.3 399.4 566.8 417.3 567.3 390.3 567.8 389.4 568.4 392.1 568.9 403.9 569.4 407.2 569.9 377.8 570.4 371.8 570.9 385.1 571.5 390.4 572.0 399.2 572.5 402.3 573.0 412.1 573.5 403.0 574.1 385.9 574.6 391.3 575.1 384.6 575.6 408.3 576.1 383.3 576.6 389.8 577.2 407.1 577.7 398.7 578.2 390.1 578.7 399.7 579.2 396.1 579.8 420.5 580.3 384.3 580.8 402.8 581.3 375.8 581.8 404.2 582.3 376.4 582.9 374.7 583.4 395.5 583.9 386.7 584.4 392.8 584.9 388.2 585.4 402.8 586.0 388.0 586.5 414.3 587.0 407.9 587.5 399.5 588.0 391.4 588.6 388.6 589.1 390.2 589.6 396.8 590.1 392.8 590.6 391.1 591.1 413.8 591.7 395.2 592.2 403.0 592.7 394.3 593.2 409.9 593.7 420.9 594.3 398.1 594.8 390.5 595.3 386.4 595.8 382.1 596.3 388.9 596.8 396.4 597.4 380.4 597.9 403.3 598.4 384.2 598.9 377.8 599.4 369.1 600.0 393.0 600.5 410.6 601.0 377.6 601.5 399.8 602.0 403.4 602.5 404.1 603.1 399.6 603.6 385.6 604.1 378.2 604.6 401.3 605.1 399.9 605.7 390.6 606.2 387.1 606.7 400.6 607.2 403.0 607.7 404.5 608.2 402.0 608.8 396.0 609.3 397.1 609.8 402.3 610.3 392.5 610.8 384.2 611.3 376.5" stroke="#0000ff" stroke-width="2.6" fill="none" stroke-linejoin="miter"/>
<path d="M126.5 -30.0L127.0 -30.0 127.5 -30.0 128.1 -30.0 128.6 -30.0 129.1 346.1 129.6 287.0 130.1 381.4 130.6 322.8 131.2 350.2 131.7 191.0 132.2 295.2 132.7 307.9 133.2 466.9 133.8 329.9 134.3 340.6 134.8 316.7 135.3 310.1 135.8 322.3 136.3 288.9 136.9 324.3 137.4 310.6 137.9 281.1 138.4 298.2 138.9 327.5 139.4 317.4 140.0 313.7 140.5 275.2 141.0 313.3 141.5 320.9 142.0 292.4 142.6 331.0 143.1 318.0 143.6 295.1 144.1 306.6 144.6 300.3 145.1 295.1 145.7 395.9 146.2 285.5 146.7 334.1 147.2 351.1 147.7 312.3 148.3 288.9 148.8 332.2 149.3 333.9 149.8 313.5 150.3 305.7 150.8 285.0 151.4 293.5 151.9 306.1 152.4 292.1 152.9 321.9 153.4 342.5 154.0 299.7 154.5 298.4 155.0 324.8 155.5 334.2 156.0 316.1 156.5 381.7 157.1 313.9 157.6 313.2 158.1 361.1 158.6 313.9 159.1 328.5 159.7 294.8 160.2 363.2 160.7 333.5 161.2 305.8 161.7 284.2 162.2 369.3 162.8 326.6 163.3 287.8 163.8 310.5 164.3 263.8 164.8 331.5 165.3 294.4 165.9 336.5 166.4 280.3 166.9 301.4 167.4 314.0 167.9 346.3 168.5 262.4 169.0 282.9 169.5 280.2 170.0 277.3 170.5 289.2 171.0 319.6 171.6 305.3 172.1 302.6 172.6 272.1 173.1 323.9 173.6 308.9 174.2 300.3 174.7 288.5 175.2 272.9 175.7 317.2 176.2 337.5 176.7 293.6 177.3 268.3 177.8 283.8 178.3 288.6 178.8 301.8 179.3 279.5 179.9 302.0 180.4 275.6 180.9 328.6 181.4 305.6 181.9 297.1 182.4 285.4 183.0 287.0 183.5 254.2 184.0 270.4 184.5 286.5 185.0 347.2 185.6 310.9 186.1 314.8 186.6 296.1 187.1 342.5 187.6 291.6 188.1 293.6 188.7 329.1 189.2 329.5 189.7 314.9 190.2 304.0 190.7 296.0 191.2 285.1 191.8 320.5 192.3 297.6 192.8 316.2 193.3 282.6 193.8 301.9 194.4 300.5 194.9 345.4 195.4 317.2 195.9 335.2 196.4 299.3 196.9 307.9 197.5 318.7 198.0 356.4 198.5 311.7 199.0 334.2 199.5 348.9 200.1 318.8 200.6 303.2 201.1 328.5 201.6 337.7 202.1 353.0 202.6 364.8 203.2 336.9 203.7 342.8 204.2 353.0 204.7 343.0 205.2 349.3 205.8 354.6 206.3 352.5 206.8 361.3 207.3 351.1 207.8 360.2 208.3 377.8 208.9 336.0 209.4 361.6 209.9 338.5 210.4 377.4 210.9 355.8 211.5 361.9 212.0 352.0 212.5 325.1 213.0 361.2 213.5 337.9 214.0 349.7 214.6 367.7 215.1 355.2 215.6 335.1 216.1 326.5 216.6 342.4 217.2 329.4 217.7 343.6 218.2 340.3 218.7 335.0 219.2 361.1 219.7 318.7 220.3 346.3 220.8 343.4 221.3 341.6 221.8 358.5 222.3 351.0 222.8 333.6 223.4 351.2 223.9 344.1 224.4 331.4 224.9 312.5 225.4 330.1 226.0 315.9 226.5 350.4 227.0 328.6 227.5 332.8 228.0 341.8 228.5 328.2 229.1 322.7 229.6 333.9 230.1 339.8 230.6 308.9 231.1 317.4 231.7 306.1 232.2 310.6 232.7 328.3 233.2 307.6 233.7 315.3 234.2 325.1 234.8 325.0 235.3 313.4 235.8 338.3 236.3 340.8 236.8 316.6 237.4 334.5 237.9 324.3 238.4 330.2 238.9 318.5 239.4 330.3 239.9 337.1 240.5 339.2 241.0 359.9 241.5 355.5 242.0 318.9 242.5 331.7 243.1 325.0 243.6 365.4 244.1 340.6 244.6 344.6 245.1 364.6 245.6 326.6 246.2 339.3 246.7 365.6 247.2 344.7 247.7 344.4 248.2 350.3 248.7 359.6 249.3 353.8 249.8 355.2 250.3 382.0 250.8 369.0 251.3 356.5 251.9 367.0 252.4 339.3 252.9 358.4 253.4 374.8 253.9 377.1 254.4 368.4 255.0 344.2 255.5 359.2 256.0 382.3 256.5 344.2 257.0 334.7 257.6 343.5 258.1 345.9 258.6 349.7 259.1 329.5 259.6 347.1 260.1 349.3 260.7 313.4 261.2 328.1 261.7 338.8 262.2 326.8 262.7 330.6 263.3 317.5 263.8 309.2 264.3 308.8 264.8 332.1 265.3 334.2 265.8 323.9 266.4 328.2 266.9 360.0 267.4 321.5 267.9 341.1 268.4 328.7 269.0 340.1 269.5 341.4 270.0 326.3 270.5 346.5 271.0 344.7 271.5 358.4 272.1 347.7 272.6 335.2 273.1 347.3 273.6 348.8 274.1 316.9 274.6 346.4 275.2 331.2 275.7 343.2 276.2 361.2 276.7 360.1 277.2 375.7 277.8 360.8 278.3 379.5 278.8 368.8 279.3 348.0 279.8 373.3 280.3 363.1 280.9 352.4 281.4 362.7 281.9 355.0 282.4 376.4 282.9 339.5 283.5 361.2 284.0 315.6 284.5 352.0 285.0 350.5 285.5 353.3 286.0 331.4 286.6 326.3 287.1 329.6 287.6 319.2 288.1 330.3 288.6 360.5 289.2 336.5 289.7 342.2 290.2 324.0 290.7 342.8 291.2 316.7 291.7 342.8 292.3 311.5 292.8 343.0 293.3 330.8 293.8 361.1 294.3 349.1 294.9 354.7 295.4 346.7 295.9 339.1 296.4 335.6 296.9 360.8 297.4 351.6 298.0 356.8 298.5 375.3 299.0 347.0 299.5 358.4 300.0 363.3 300.5 375.2 301.1 381.8 301.6 395.2 302.1 359.0 302.6 366.5 303.1 380.6 303.7 355.7 304.2 350.7 304.7 373.0 305.2 377.4 305.7 351.3 306.2 358.5 306.8 360.5 307.3 358.3 307.8 372.4 308.3 353.2 308.8 368.1 309.4 349.0 309.9 343.4 310.4 328.7 310.9 344.6 311.4 355.0 311.9 333.9 312.5 320.0 313.0 345.2 313.5 369.0 314.0 340.4 314.5 351.8 315.1 353.7 315.6 355.2 316.1 348.5 316.6 326.4 317.1 334.6 317.6 315.8 318.2 339.6 318.7 339.0 319.2 364.4 319.7 370.1 320.2 358.7 320.8 354.8 321.3 372.1 321.8 359.9 322.3 336.0 322.8 354.5 323.3 350.2 323.9 370.3 324.4 360.7 324.9 358.4 325.4 357.8 325.9 346.0 326.4 369.6 327.0 365.9 327.5 362.3 328.0 342.8 328.5 356.2 329.0 335.2 329.6 349.3 330.1 339.7 330.6 330.3 331.1 358.7 331.6 339.8 332.1 333.0 332.7 318.4 333.2 334.0 333.7 330.6 334.2 325.1 334.7 319.6 335.3 308.1 335.8 317.6 336.3 330.5 336.8 312.6 337.3 321.2 337.8 341.5 338.4 323.3 338.9 340.2 339.4 343.1 339.9 336.9 340.4 334.7 341.0 333.1 341.5 318.1 342.0 324.0 342.5 356.1 343.0 362.7 343.5 334.2 344.1 345.6 344.6 342.2 345.1 344.4 345.6 350.1 346.1 348.2 346.6 358.7 347.2 353.3 347.7 327.0 348.2 348.1 348.7 344.8 349.2 332.3 349.8 310.4 350.3 317.9 350.8 326.4 351.3 341.1 351.8 313.8 352.3 303.8 352.9 312.6 353.4 301.3 353.9 325.6 354.4 309.2 354.9 317.0 355.5 301.8 356.0 314.3 356.5 308.6 357.0 303.8 357.5 296.3 358.0 330.6 358.6 301.3 359.1 301.1 359.6 317.0 360.1 321.8 360.6 307.5 361.2 330.9 361.7 319.4 362.2 323.4 362.7 322.3 363.2 299.4 363.7 301.8 364.3 312.4 364.8 296.4 365.3 289.5 365.8 308.6 366.3 293.2 366.9 289.1 367.4 291.5 367.9 280.2 368.4 280.6 368.9 265.2 369.4 267.6 370.0 274.6 370.5 271.2 371.0 283.3 371.5 266.8 372.0 263.8 372.6 276.3 373.1 252.5 373.6 280.2 374.1 248.8 374.6 262.3 375.1 261.7 375.7 258.0 376.2 257.0 376.7 269.4 377.2 283.8 377.7 255.0 378.2 280.0 378.8 283.1 379.3 275.2 379.8 277.4 380.3 281.6 380.8 257.5 381.4 269.7 381.9 249.8 382.4 257.4 382.9 247.6 383.4 247.8 383.9 218.9 384.5 220.7 385.0 224.4 385.5 208.7 386.0 201.2 386.5 179.0 387.1 203.5 387.6 193.1 388.1 194.0 388.6 170.4 389.1 182.2 389.6 191.0 390.2 199.0 390.7 202.0 391.2 201.2 391.7 212.4 392.2 198.2 392.8 181.0 393.3 206.9 393.8 220.9 394.3 212.5 394.8 226.1 395.3 237.6 395.9 220.0 396.4 220.8 396.9 209.2 397.4 196.9 397.9 209.1 398.4 202.0 399.0 189.9 399.5 171.0 400.0 173.5 400.5 176.8 401.0 173.4 401.6 170.9 402.1 172.9 402.6 154.0 403.1 150.6 403.6 148.4 404.1 172.3 404.7 131.1 405.2 140.2 405.7 160.0 406.2 167.4 406.7 164.7 407.3 169.7 407.8 182.0 408.3 169.5 408.8 195.3 409.3 172.1 409.8 203.0 410.4 207.1 410.9 201.7 411.4 180.2 411.9 206.4 412.4 196.3 413.0 199.0 413.5 211.0 414.0 177.0 414.5 178.1 415.0 191.1 415.5 170.6 416.1 201.8 416.6 184.8 417.1 158.0 417.6 171.1 418.1 193.0 418.7 200.4 419.2 186.7 419.7 174.7 420.2 187.8 420.7 192.6 421.2 192.9 421.8 201.8 422.3 199.3 422.8 200.5 423.3 199.1 423.8 209.8 424.4 209.0 424.9 224.0 425.4 220.3 425.9 216.2 426.4 205.4 426.9 236.2 427.5 237.9 428.0 229.7 428.5 230.4 429.0 234.3 429.5 232.9 430.0 249.6 430.6 248.0 431.1 246.2 431.6 260.3 432.1 251.1 432.6 249.7 433.2 250.0 433.7 261.7 434.2 257.9 434.7 252.8 435.2 273.6 435.7 274.3 436.3 275.9 436.8 272.7 437.3 265.0 437.8 285.8 438.3 297.0 438.9 287.4 439.4 289.8 439.9 292.0 440.4 302.5 440.9 287.4 441.4 299.7 442.0 302.9 442.5 302.5 443.0 292.4 443.5 293.7 444.0 316.6 444.6 294.4 445.1 301.7 445.6 301.2 446.1 307.5 446.6 284.1 447.1 300.0 447.7 314.7 448.2 312.9 448.7 309.7 449.2 321.2 449.7 335.7 450.2 320.2 450.8 323.1 451.3 326.1 451.8 325.0 452.3 318.9 452.8 322.4 453.4 344.1 453.9 333.5 454.4 318.1 454.9 325.1 455.4 324.6 455.9 334.0 456.5 342.0 457.0 324.0 457.5 344.7 458.0 339.2 458.5 339.1 459.1 344.6 459.6 349.9 460.1 349.8 460.6 343.6 461.1 344.3 461.6 348.2 462.2 345.2 462.7 338.6 463.2 354.0 463.7 351.4 464.2 347.8 464.8 364.2 465.3 358.6 465.8 350.7 466.3 353.0 466.8 349.1 467.3 344.7 467.9 339.4 468.4 348.1 468.9 360.7 469.4 355.1 469.9 366.3 470.5 358.1 471.0 360.6 471.5 357.3 472.0 349.2 472.5 344.0 473.0 357.8 473.6 365.9 474.1 358.1 474.6 359.2 475.1 354.6 475.6 358.4 476.2 353.9 476.7 347.4 477.2 347.8 477.7 339.0 478.2 354.5 478.7 356.5 479.3 357.1 479.8 349.2 480.3 360.9 480.8 356.4 481.3 379.8 481.8 370.8 482.4 354.5 482.9 370.2 483.4 373.6 483.9 377.6 484.4 359.1 485.0 359.9 485.5 365.7 486.0 366.4 486.5 370.5 487.0 362.4 487.5 370.9 488.1 379.2 488.6 361.7 489.1 380.6 489.6 379.8 490.1 372.5 490.7 381.2 491.2 365.6 491.7 366.2 492.2 390.8 492.7 381.1 493.2 368.9 493.8 376.1 494.3 381.7 494.8 379.6 495.3 362.0 495.8 374.0 496.4 370.3 496.9 373.4 497.4 361.9 497.9 391.0 498.4 380.7 498.9 358.1 499.5 376.6 500.0 368.8 500.5 374.4 501.0 370.2 501.5 382.5 502.1 373.6 502.6 372.8 503.1 381.7 503.6 377.9 504.1 385.7 504.6 380.9 505.2 377.7 505.7 384.6 506.2 379.4 506.7 370.1 507.2 390.7 507.7 379.3 508.3 382.8 508.8 381.5 509.3 382.1 509.8 381.9 510.3 379.7 510.9 374.4 511.4 375.2 511.9 375.5 512.4 375.6 512.9 376.8 513.4 372.9 514.0 383.0 514.5 381.0 515.0 386.5 515.5 378.3 516.0 392.7 516.6 385.9 517.1 379.5 517.6 385.1 518.1 380.5 518.6 384.3 519.1 379.3 519.7 381.8 520.2 381.1 520.7 383.9 521.2 392.3 521.7 378.0 522.3 384.3 522.8 381.5 523.3 391.2 523.8 376.7 524.3 381.4 524.8 392.1 525.4 387.8 525.9 393.8 526.4 384.9 526.9 379.5 527.4 384.3 528.0 382.4 528.5 386.3 529.0 390.3 529.5 395.9 530.0 384.1 530.5 380.9 531.1 383.6 531.6 387.2 532.1 389.6 532.6 403.2 533.1 381.6 533.6 380.6 534.2 392.2 534.7 390.2 535.2 384.7 535.7 376.7 536.2 389.8 536.8 387.5 537.3 387.8 537.8 380.9 538.3 395.9 538.8 400.9 539.3 410.3 539.9 400.8 540.4 392.0 540.9 386.2 541.4 383.8 541.9 384.4 542.5 399.0 543.0 387.3 543.5 387.1 544.0 399.0 544.5 392.0 545.0 390.4 545.6 397.2 546.1 385.1 546.6 398.4 547.1 382.6 547.6 385.2 548.2 400.3 548.7 392.5 549.2 391.8 549.7 397.8 550.2 392.2 550.7 397.8 551.3 383.3 551.8 387.6 552.3 384.8 552.8 389.0 553.3 385.9 553.9 385.9 554.4 386.9 554.9 400.3 555.4 385.7 555.9 382.7 556.4 398.8 557.0 398.6 557.5 400.2 558.0 390.4 558.5 396.1 559.0 380.1 559.5 386.2 560.1 407.6 560.6 403.0 561.1 396.6 561.6 399.2 562.1 399.8 562.7 393.5 563.2 395.5 563.7 403.3 564.2 391.1 564.7 385.7 565.2 387.4 565.8 394.6 566.3 392.4 566.8 403.7 567.3 392.5 567.8 398.8 568.4 395.2 568.9 400.8 569.4 403.9 569.9 389.0 570.4 378.1 570.9 404.4 571.5 389.8 572.0 398.8 572.5 395.1 573.0 413.7 573.5 397.6 574.1 393.8 574.6 392.0 575.1 389.4 575.6 400.9 576.1 404.9 576.6 394.2 577.2 391.4 577.7 391.9 578.2 387.6 578.7 405.1 579.2 401.1 579.8 399.7 580.3 389.5 580.8 398.7 581.3 404.8 581.8 393.5 582.3 401.7 582.9 388.2 583.4 401.3 583.9 403.6 584.4 398.2 584.9 390.6 585.4 396.9 586.0 395.8 586.5 409.0 587.0 401.2 587.5 389.9 588.0 399.5 588.6 399.9 589.1 397.3 589.6 390.2 590.1 396.0 590.6 390.6 591.1 395.2 591.7 393.0 592.2 401.9 592.7 386.9 593.2 399.1 593.7 394.3 594.3 403.0 594.8 390.3 595.3 405.4 595.8 402.5 596.3 398.5 596.8 404.3 597.4 391.1 597.9 406.9 598.4 384.4 598.9 390.3 599.4 401.1 600.0 395.8 600.5 395.1 601.0 397.1 601.5 392.5 602.0 391.3 602.5 396.8 603.1 394.5 603.6 401.5 604.1 385.7 604.6 405.7 605.1 417.0 605.7 394.8 606.2 401.1 606.7 389.3 607.2 397.2 607.7 405.1 608.2 405.5 608.8 396.9 609.3 397.4 609.8 404.8 610.3 398.7 610.8 403.5 611.3 389.0" stroke="#00ff00" stroke-width="2.6" fill="none" stroke-linejoin="miter"/>
<path d="M126.5 -30.0L127.0 -30.0 127.5 -30.0 128.1 -30.0 128.6 -30.0 129.1 386.1 129.6 294.5 130.1 340.9 130.6 322.7 131.2 374.7 131.7 304.1 132.2 308.5 132.7 270.2 133.2 306.7 133.8 309.2 134.3 357.4 134.8 264.3 135.3 376.9 135.8 301.1 136.3 330.6 136.9 348.3 137.4 335.6 137.9 342.9 138.4 313.3 138.9 327.4 139.4 290.5 140.0 375.7 140.5 331.5 141.0 336.8 141.5 307.8 142.0 372.8 142.6 327.3 143.1 316.5 143.6 358.7 144.1 308.5 144.6 309.4 145.1 299.5 145.7 315.0 146.2 342.0 146.7 338.4 147.2 325.1 147.7 312.2 148.3 297.9 148.8 346.2 149.3 331.4 149.8 341.5 150.3 328.0 150.8 334.1 151.4 325.2 151.9 276.6 152.4 340.5 152.9 334.0 153.4 320.7 154.0 346.1 154.5 332.3 155.0 330.6 155.5 310.1 156.0 362.0 156.5 302.9 157.1 349.6 157.6 333.3 158.1 315.1 158.6 314.0 159.1 296.0 159.7 323.0 160.2 328.0 160.7 318.7 161.2 357.9 161.7 300.3 162.2 348.5 162.8 356.4 163.3 268.2 163.8 315.6 164.3 342.6 164.8 280.8 165.3 326.2 165.9 305.5 166.4 346.0 166.9 322.7 167.4 356.6 167.9 362.2 168.5 337.7 169.0 318.4 169.5 298.1 170.0 270.5 170.5 334.9 171.0 301.2 171.6 317.2 172.1 305.8 172.6 348.5 173.1 338.2 173.6 328.1 174.2 333.8 174.7 310.8 175.2 317.1 175.7 283.4 176.2 313.8 176.7 307.6 177.3 289.9 177.8 306.9 178.3 311.2 178.8 313.9 179.3 305.9 179.9 293.7 180.4 295.6 180.9 320.9 181.4 309.7 181.9 321.9 182.4 304.3 183.0 334.7 183.5 298.4 184.0 316.0 184.5 329.0 185.0 311.4 185.6 320.3 186.1 323.1 186.6 301.3 187.1 311.2 187.6 345.2 188.1 321.3 188.7 347.7 189.2 296.0 189.7 317.0 190.2 318.1 190.7 284.3 191.2 300.4 191.8 327.4 192.3 314.3 192.8 313.8 193.3 299.8 193.8 328.5 194.4 332.7 194.9 319.6 195.4 321.2 195.9 321.3 196.4 324.5 196.9 343.4 197.5 335.1 198.0 390.6 198.5 330.9 199.0 314.8 199.5 355.7 200.1 317.6 200.6 330.9 201.1 332.1 201.6 336.0 202.1 341.4 202.6 360.6 203.2 349.9 203.7 355.8 204.2 348.8 204.7 341.1 205.2 359.4 205.8 349.9 206.3 346.6 206.8 360.0 207.3 351.6 207.8 355.4 208.3 375.5 208.9 331.5 209.4 365.8 209.9 355.1 210.4 377.5 210.9 351.7 211.5 372.7 212.0 348.5 212.5 343.9 213.0 369.9 213.5 354.0 214.0 341.0 214.6 373.3 215.1 370.1 215.6 356.4 216.1 334.5 216.6 345.1 217.2 345.8 217.7 347.2 218.2 339.5 218.7 345.0 219.2 371.8 219.7 340.1 220.3 361.2 220.8 367.6 221.3 346.7 221.8 363.9 222.3 376.0 222.8 340.4 223.4 351.0 223.9 356.3 224.4 343.4 224.9 333.0 225.4 342.5 226.0 332.3 226.5 356.4 227.0 335.2 227.5 342.9 228.0 347.4 228.5 334.9 229.1 333.9 229.6 342.9 230.1 352.9 230.6 333.2 231.1 327.5 231.7 313.3 232.2 327.4 232.7 325.7 233.2 332.3 233.7 318.8 234.2 337.9 234.8 341.0 235.3 337.1 235.8 346.9 236.3 342.4 236.8 331.9 237.4 336.3 237.9 337.2 238.4 334.0 238.9 328.7 239.4 338.8 239.9 340.0 240.5 346.5 241.0 349.2 241.5 354.3 242.0 321.7 242.5 348.6 243.1 347.1 243.6 365.4 244.1 350.8 244.6 353.5 245.1 366.7 245.6 340.1 246.2 344.5 246.7 368.8 247.2 356.4 247.7 348.5 248.2 356.3 248.7 363.0 249.3 360.5 249.8 370.1 250.3 382.9 250.8 379.7 251.3 361.0 251.9 371.3 252.4 354.0 252.9 364.8 253.4 375.7 253.9 378.7 254.4 370.6 255.0 366.3 255.5 366.7 256.0 388.7 256.5 353.0 257.0 340.9 257.6 357.4 258.1 352.4 258.6 357.4 259.1 343.2 259.6 356.9 260.1 351.2 260.7 327.8 261.2 335.5 261.7 350.2 262.2 330.0 262.7 335.5 263.3 333.0 263.8 327.5 264.3 328.5 264.8 337.9 265.3 347.4 265.8 331.0 266.4 347.6 266.9 375.1 267.4 332.5 267.9 354.8 268.4 342.8 269.0 354.6 269.5 346.6 270.0 334.8 270.5 369.0 271.0 349.0 271.5 369.5 272.1 354.4 272.6 350.1 273.1 339.5 273.6 362.0 274.1 333.9 274.6 346.8 275.2 353.8 275.7 355.2 276.2 369.2 276.7 371.6 277.2 371.2 277.8 362.6 278.3 385.3 278.8 365.6 279.3 361.6 279.8 380.1 280.3 377.0 280.9 360.4 281.4 367.0 281.9 353.6 282.4 386.4 282.9 346.9 283.5 363.4 284.0 325.6 284.5 352.1 285.0 351.4 285.5 356.3 286.0 346.3 286.6 338.2 287.1 344.2 287.6 338.5 288.1 346.7 288.6 357.9 289.2 345.4 289.7 350.4 290.2 343.5 290.7 356.6 291.2 333.8 291.7 346.9 292.3 329.8 292.8 350.4 293.3 333.3 293.8 364.6 294.3 349.5 294.9 357.8 295.4 351.9 295.9 341.6 296.4 351.6 296.9 365.3 297.4 375.5 298.0 373.5 298.5 373.0 299.0 360.4 299.5 369.4 300.0 370.8 300.5 389.5 301.1 384.1 301.6 383.1 302.1 366.9 302.6 375.6 303.1 396.0 303.7 355.8 304.2 352.3 304.7 386.5 305.2 371.9 305.7 359.7 306.2 372.4 306.8 369.1 307.3 358.9 307.8 375.7 308.3 368.9 308.8 368.8 309.4 365.5 309.9 351.5 310.4 349.0 310.9 352.5 311.4 360.0 311.9 354.9 312.5 326.1 313.0 356.3 313.5 378.1 314.0 353.4 314.5 359.4 315.1 363.9 315.6 352.5 316.1 357.8 316.6 336.0 317.1 341.7 317.6 325.0 318.2 339.2 318.7 364.0 319.2 373.0 319.7 370.7 320.2 374.1 320.8 362.8 321.3 390.9 321.8 364.4 322.3 351.8 322.8 373.8 323.3 364.1 323.9 375.4 324.4 367.6 324.9 373.9 325.4 363.4 325.9 360.3 326.4 385.5 327.0 381.4 327.5 379.9 328.0 360.4 328.5 364.1 329.0 343.3 329.6 363.4 330.1 343.2 330.6 350.0 331.1 366.2 331.6 346.8 332.1 339.5 332.7 335.9 333.2 345.2 333.7 341.6 334.2 338.8 334.7 334.7 335.3 322.4 335.8 329.6 336.3 332.6 336.8 335.4 337.3 341.7 337.8 360.4 338.4 338.0 338.9 356.6 339.4 354.4 339.9 344.9 340.4 344.9 341.0 349.3 341.5 337.6 342.0 342.5 342.5 356.1 343.0 374.9 343.5 350.1 344.1 347.5 344.6 355.2 345.1 360.5 345.6 367.4 346.1 354.2 346.6 370.0 347.2 369.8 347.7 346.1 348.2 356.0 348.7 358.4 349.2 342.5 349.8 323.3 350.3 331.8 350.8 326.8 351.3 344.2 351.8 324.4 352.3 313.6 352.9 332.5 353.4 317.9 353.9 334.0 354.4 326.7 354.9 325.1 355.5 323.2 356.0 321.9 356.5 319.4 357.0 324.7 357.5 311.2 358.0 343.0 358.6 315.2 359.1 317.3 359.6 339.7 360.1 334.3 360.6 331.1 361.2 343.8 361.7 335.8 362.2 337.0 362.7 344.8 363.2 318.9 363.7 329.5 364.3 321.2 364.8 314.4 365.3 307.2 365.8 314.7 366.3 318.9 366.9 303.7 367.4 291.4 367.9 297.6 368.4 292.3 368.9 293.7 369.4 300.1 370.0 290.2 370.5 289.4 371.0 278.4 371.5 279.1 372.0 279.5 372.6 274.9 373.1 268.6 373.6 278.9 374.1 268.3 374.6 267.8 375.1 260.5 375.7 292.2 376.2 286.8 376.7 276.3 377.2 280.2 377.7 267.6 378.2 294.2 378.8 284.6 379.3 281.6 379.8 297.2 380.3 288.8 380.8 280.7 381.4 284.9 381.9 279.4 382.4 290.1 382.9 274.8 383.4 271.3 383.9 247.0 384.5 246.1 385.0 225.8 385.5 236.9 386.0 229.5 386.5 216.2 387.1 224.9 387.6 218.7 388.1 209.8 388.6 203.5 389.1 199.0 389.6 206.2 390.2 222.9 390.7 212.3 391.2 224.6 391.7 230.2 392.2 227.9 392.8 218.7 393.3 226.4 393.8 237.9 394.3 219.7 394.8 235.1 395.3 239.4 395.9 234.3 396.4 234.6 396.9 232.6 397.4 222.3 397.9 226.1 398.4 218.0 399.0 220.1 399.5 197.8 400.0 203.4 400.5 204.8 401.0 196.0 401.6 191.8 402.1 201.2 402.6 182.8 403.1 175.7 403.6 171.8 404.1 184.2 404.7 170.8 405.2 186.1 405.7 177.0 406.2 203.8 406.7 192.7 407.3 208.4 407.8 196.1 408.3 207.6 408.8 205.8 409.3 224.7 409.8 216.2 410.4 230.4 410.9 220.1 411.4 205.8 411.9 225.2 412.4 215.7 413.0 213.5 413.5 218.4 414.0 215.4 414.5 204.8 415.0 212.0 415.5 212.9 416.1 206.4 416.6 205.0 417.1 210.6 417.6 206.8 418.1 187.9 418.7 187.7 419.2 199.7 419.7 214.9 420.2 207.6 420.7 206.4 421.2 215.8 421.8 217.8 422.3 224.9 422.8 221.2 423.3 223.3 423.8 229.4 424.4 221.7 424.9 235.8 425.4 234.3 425.9 240.4 426.4 247.8 426.9 242.0 427.5 236.5 428.0 243.2 428.5 258.4 429.0 257.4 429.5 253.2 430.0 249.3 430.6 254.4 431.1 262.4 431.6 262.5 432.1 263.3 432.6 266.1 433.2 270.3 433.7 281.7 434.2 274.8 434.7 270.9 435.2 277.8 435.7 289.9 436.3 285.0 436.8 287.8 437.3 272.9 437.8 294.9 438.3 288.9 438.9 284.4 439.4 301.1 439.9 299.1 440.4 301.6 440.9 308.1 441.4 304.9 442.0 308.1 442.5 300.0 443.0 304.6 443.5 304.6 444.0 309.7 444.6 308.4 445.1 319.0 445.6 309.7 446.1 319.7 446.6 303.5 447.1 323.8 447.7 307.6 448.2 317.0 448.7 311.8 449.2 320.1 449.7 330.3 450.2 317.9 450.8 327.9 451.3 327.9 451.8 326.0 452.3 321.8 452.8 324.4 453.4 346.9 453.9 337.1 454.4 340.6 454.9 327.5 455.4 337.3 455.9 330.8 456.5 341.6 457.0 337.8 457.5 344.5 458.0 350.1 458.5 340.6 459.1 345.5 459.6 349.4 460.1 346.6 460.6 357.1 461.1 347.3 461.6 348.5 462.2 349.5 462.7 345.6 463.2 346.1 463.7 342.5 464.2 343.8 464.8 359.2 465.3 359.0 465.8 358.4 466.3 349.4 466.8 343.0 467.3 354.0 467.9 340.6 468.4 358.3 468.9 362.2 469.4 346.1 469.9 362.0 470.5 353.9 471.0 347.6 471.5 354.0 472.0 347.5 472.5 359.1 473.0 365.6 473.6 370.0 474.1 366.1 474.6 357.8 475.1 362.0 475.6 359.5 476.2 358.7 476.7 366.5 477.2 363.7 477.7 354.5 478.2 355.3 478.7 361.2 479.3 369.0 479.8 353.3 480.3 354.6 480.8 353.8 481.3 368.0 481.8 369.0 482.4 363.5 482.9 367.4 483.4 371.1 483.9 371.3 484.4 362.8 485.0 366.1 485.5 366.0 486.0 372.7 486.5 353.7 487.0 377.3 487.5 372.9 488.1 373.9 488.6 370.8 489.1 370.8 489.6 378.9 490.1 384.8 490.7 384.7 491.2 378.1 491.7 371.1 492.2 377.7 492.7 376.3 493.2 365.0 493.8 371.3 494.3 370.6 494.8 371.4 495.3 362.9 495.8 380.8 496.4 372.1 496.9 359.9 497.4 370.2 497.9 381.2 498.4 381.6 498.9 368.1 499.5 374.2 500.0 367.6 500.5 377.1 501.0 383.9 501.5 377.4 502.1 380.3 502.6 375.1 503.1 376.8 503.6 381.7 504.1 379.1 504.6 375.8 505.2 375.3 505.7 381.9 506.2 387.3 506.7 371.3 507.2 387.6 507.7 375.7 508.3 379.9 508.8 386.7 509.3 384.1 509.8 384.0 510.3 387.3 510.9 370.3 511.4 373.7 511.9 379.8 512.4 368.4 512.9 371.6 513.4 388.9 514.0 381.2 514.5 378.8 515.0 381.7 515.5 389.9 516.0 384.2 516.6 383.4 517.1 374.8 517.6 385.0 518.1 390.5 518.6 385.1 519.1 383.6 519.7 384.2 520.2 379.8 520.7 379.1 521.2 387.3 521.7 375.5 522.3 389.0 522.8 381.4 523.3 399.0 523.8 385.3 524.3 380.7 524.8 392.6 525.4 380.0 525.9 394.4 526.4 379.4 526.9 388.4 527.4 385.8 528.0 372.9 528.5 382.0 529.0 387.8 529.5 392.1 530.0 383.2 530.5 379.7 531.1 381.5 531.6 395.3 532.1 378.1 532.6 387.2 533.1 385.3 533.6 388.4 534.2 390.6 534.7 394.7 535.2 387.8 535.7 380.0 536.2 388.6 536.8 388.5 537.3 395.5 537.8 384.6 538.3 400.2 538.8 385.8 539.3 398.7 539.9 394.0 540.4 381.1 540.9 392.0 541.4 384.3 541.9 387.2 542.5 399.5 543.0 392.0 543.5 392.8 544.0 390.6 544.5 403.8 545.0 391.6 545.6 398.5 546.1 395.9 546.6 394.8 547.1 388.4 547.6 382.2 548.2 392.7 548.7 391.3 549.2 386.4 549.7 389.4 550.2 395.0 550.7 399.6 551.3 389.7 551.8 398.5 552.3 384.2 552.8 394.4 553.3 382.0 553.9 397.5 554.4 385.2 554.9 393.8 555.4 395.2 555.9 377.6 556.4 393.9 557.0 395.4 557.5 393.3 558.0 388.9 558.5 388.6 559.0 389.3 559.5 394.9 560.1 396.7 560.6 398.1 561.1 395.1 561.6 388.8 562.1 397.5 562.7 402.5 563.2 385.1 563.7 396.5 564.2 386.3 564.7 383.6 565.2 399.1 565.8 397.0 566.3 395.8 566.8 395.5 567.3 396.8 567.8 395.2 568.4 394.5 568.9 397.9 569.4 397.6 569.9 385.7 570.4 384.3 570.9 393.7 571.5 388.8 572.0 405.4 572.5 398.6 573.0 408.4 573.5 399.4 574.1 393.1 574.6 397.8 575.1 392.1 575.6 393.8 576.1 395.7 576.6 396.2 577.2 399.4 577.7 396.1 578.2 388.0 578.7 409.6 579.2 393.8 579.8 409.6 580.3 393.9 580.8 399.0 581.3 399.1 581.8 390.0 582.3 402.6 582.9 395.0 583.4 401.3 583.9 400.6 584.4 397.4 584.9 399.6 585.4 397.6 586.0 389.1 586.5 403.0 587.0 396.6 587.5 399.8 588.0 394.6 588.6 402.4 589.1 405.5 589.6 397.7 590.1 404.2 590.6 393.8 591.1 401.9 591.7 403.1 592.2 404.9 592.7 394.8 593.2 399.7 593.7 402.1 594.3 391.7 594.8 387.9 595.3 404.9 595.8 392.7 596.3 404.9 596.8 406.1 597.4 397.3 597.9 397.9 598.4 396.0 598.9 394.4 599.4 391.0 600.0 396.0 600.5 400.9 601.0 387.6 601.5 394.7 602.0 405.4 602.5 406.0 603.1 397.5 603.6 398.6 604.1 387.3 604.6 395.2 605.1 400.8 605.7 397.7 606.2 392.9 606.7 399.1 607.2 403.2 607.7 405.3 608.2 399.3 608.8 399.0 609.3 391.5 609.8 407.0 610.3 391.7 610.8 411.3 611.3 392.0" stroke="#ffa500" stroke-width="2.6" fill="none" stroke-linejoin="miter"/>
<path d="M126.5 -30.0L127.0 -30.0 127.5 -30.0 128.1 -30.0 128.6 -30.0 129.1 316.7 129.6 326.3 130.1 408.5 130.6 377.3 131.2 327.9 131.7 430.4 132.2 333.6 132.7 380.2 133.2 418.3 133.8 296.7 134.3 341.1 134.8 403.7 135.3 356.6 135.8 384.4 136.3 365.8 136.9 364.2 137.4 363.4 137.9 340.6 138.4 348.8 138.9 361.1 139.4 340.5 140.0 340.1 140.5 385.3 141.0 349.9 141.5 368.4 142.0 353.9 142.6 371.3 143.1 346.9 143.6 351.1 144.1 358.6 144.6 362.7 145.1 355.1 145.7 377.2 146.2 372.8 146.7 342.9 147.2 368.2 147.7 329.5 148.3 330.9 148.8 391.0 149.3 340.4 149.8 369.9 150.3 343.0 150.8 350.9 151.4 385.0 151.9 351.3 152.4 356.3 152.9 332.1 153.4 374.0 154.0 334.5 154.5 368.1 155.0 357.5 155.5 364.5 156.0 325.4 156.5 341.4 157.1 312.0 157.6 342.2 158.1 336.2 158.6 333.0 159.1 353.9 159.7 348.5 160.2 322.5 160.7 353.3 161.2 348.9 161.7 346.6 162.2 338.2 162.8 354.2 163.3 339.6 163.8 332.7 164.3 338.0 164.8 356.4 165.3 324.7 165.9 368.7 166.4 367.5 166.9 362.1 167.4 325.1 167.9 349.1 168.5 356.5 169.0 358.8 169.5 330.4 170.0 358.9 170.5 359.2 171.0 331.5 171.6 352.3 172.1 336.0 172.6 340.6 173.1 341.8 173.6 337.6 174.2 313.0 174.7 344.0 175.2 351.8 175.7 363.7 176.2 342.4 176.7 341.2 177.3 331.6 177.8 346.6 178.3 343.0 178.8 347.9 179.3 339.4 179.9 334.7 180.4 341.1 180.9 344.1 181.4 313.9 181.9 328.7 182.4 361.7 183.0 307.5 183.5 337.3 184.0 354.0 184.5 334.6 185.0 342.0 185.6 350.4 186.1 349.6 186.6 357.1 187.1 335.9 187.6 330.4 188.1 350.8 188.7 333.3 189.2 315.6 189.7 354.5 190.2 335.9 190.7 345.7 191.2 364.7 191.8 360.1 192.3 342.8 192.8 340.5 193.3 350.6 193.8 342.9 194.4 338.9 194.9 346.3 195.4 331.2 195.9 340.8 196.4 341.1 196.9 321.1 197.5 333.9 198.0 359.7 198.5 335.4 199.0 357.9 199.5 357.0 200.1 337.7 200.6 346.0 201.1 328.5 201.6 349.1 202.1 369.7 202.6 336.7 203.2 343.8 203.7 372.6 204.2 345.9 204.7 356.7 205.2 378.1 205.8 366.6 206.3 356.3 206.8 346.5 207.3 368.1 207.8 362.9 208.3 374.6 208.9 350.7 209.4 372.5 209.9 354.9 210.4 362.6 210.9 356.1 211.5 378.2 212.0 373.8 212.5 352.4 213.0 362.2 213.5 362.2 214.0 371.7 214.6 353.3 215.1 358.5 215.6 364.4 216.1 343.6 216.6 345.1 217.2 374.9 217.7 359.6 218.2 357.1 218.7 349.8 219.2 364.9 219.7 353.3 220.3 362.6 220.8 350.9 221.3 338.9 221.8 367.3 222.3 368.2 222.8 334.0 223.4 365.7 223.9 362.4 224.4 349.4 224.9 341.7 225.4 339.4 226.0 342.2 226.5 364.0 227.0 341.5 227.5 346.4 228.0 339.1 228.5 348.5 229.1 357.0 229.6 358.3 230.1 347.3 230.6 345.9 231.1 356.2 231.7 340.0 232.2 337.3 232.7 335.3 233.2 345.4 233.7 330.9 234.2 343.3 234.8 350.6 235.3 344.6 235.8 342.2 236.3 341.4 236.8 337.3 237.4 347.6 237.9 338.0 238.4 350.1 238.9 342.8 239.4 354.0 239.9 350.2 240.5 354.0 241.0 341.2 241.5 363.8 242.0 330.9 242.5 345.2 243.1 351.5 243.6 355.0 244.1 369.1 244.6 356.1 245.1 359.4 245.6 364.0 246.2 360.0 246.7 356.4 247.2 357.9 247.7 363.5 248.2 362.9 248.7 364.8 249.3 359.6 249.8 362.5 250.3 375.9 250.8 372.7 251.3 363.8 251.9 359.3 252.4 357.6 252.9 361.4 253.4 371.5 253.9 380.7 254.4 374.6 255.0 360.2 255.5 364.0 256.0 384.1 256.5 368.7 257.0 350.8 257.6 366.0 258.1 358.3 258.6 364.4 259.1 347.4 259.6 358.6 260.1 349.8 260.7 339.6 261.2 339.1 261.7 348.9 262.2 346.3 262.7 347.3 263.3 340.7 263.8 342.6 264.3 336.2 264.8 346.8 265.3 358.7 265.8 356.9 266.4 343.2 266.9 367.5 267.4 339.5 267.9 365.9 268.4 341.5 269.0 350.7 269.5 354.9 270.0 351.5 270.5 363.6 271.0 357.5 271.5 366.2 272.1 365.5 272.6 347.8 273.1 352.9 273.6 360.1 274.1 345.0 274.6 370.3 275.2 351.1 275.7 360.1 276.2 366.3 276.7 365.9 277.2 375.5 277.8 358.9 278.3 386.8 278.8 373.3 279.3 370.4 279.8 371.8 280.3 365.9 280.9 365.3 281.4 369.4 281.9 354.3 282.4 382.1 282.9 343.0 283.5 362.3 284.0 346.6 284.5 363.2 285.0 351.9 285.5 354.1 286.0 353.8 286.6 339.4 287.1 338.6 287.6 349.3 288.1 356.5 288.6 368.9 289.2 357.1 289.7 359.7 290.2 353.0 290.7 365.3 291.2 340.0 291.7 371.2 292.3 348.0 292.8 341.9 293.3 341.8 293.8 358.8 294.3 351.6 294.9 349.9 295.4 351.3 295.9 350.4 296.4 362.0 296.9 366.2 297.4 375.1 298.0 371.3 298.5 376.6 299.0 361.2 299.5 368.0 300.0 359.7 300.5 386.1 301.1 376.3 301.6 363.6 302.1 367.4 302.6 359.7 303.1 374.7 303.7 352.9 304.2 352.0 304.7 386.6 305.2 373.5 305.7 363.9 306.2 379.3 306.8 369.2 307.3 372.3 307.8 383.4 308.3 363.3 308.8 367.8 309.4 365.9 309.9 364.3 310.4 359.2 310.9 358.5 311.4 362.5 311.9 353.9 312.5 344.9 313.0 355.9 313.5 367.8 314.0 356.3 314.5 363.1 315.1 365.8 315.6 351.9 316.1 357.6 316.6 352.2 317.1 365.0 317.6 355.9 318.2 348.2 318.7 353.8 319.2 359.8 319.7 362.8 320.2 365.7 320.8 363.5 321.3 383.8 321.8 357.9 322.3 361.8 322.8 360.7 323.3 358.6 323.9 368.0 324.4 359.6 324.9 370.7 325.4 366.0 325.9 366.8 326.4 375.2 327.0 362.7 327.5 371.9 328.0 348.4 328.5 352.1 329.0 348.2 329.6 357.2 330.1 361.3 330.6 348.5 331.1 353.3 331.6 357.5 332.1 347.8 332.7 351.1 333.2 349.6 333.7 354.3 334.2 331.4 334.7 344.7 335.3 350.8 335.8 331.9 336.3 340.4 336.8 340.2 337.3 344.9 337.8 360.5 338.4 348.7 338.9 353.6 339.4 351.9 339.9 349.0 340.4 347.1 341.0 358.1 341.5 343.5 342.0 344.6 342.5 347.3 343.0 371.6 343.5 356.9 344.1 348.1 344.6 352.1 345.1 354.5 345.6 370.0 346.1 359.1 346.6 367.5 347.2 363.7 347.7 361.2 348.2 350.8 348.7 354.9 349.2 347.1 349.8 347.3 350.3 337.2 350.8 332.6 351.3 364.6 351.8 332.5 352.3 325.9 352.9 342.2 353.4 327.4 353.9 343.6 354.4 330.5 354.9 330.7 355.5 331.6 356.0 320.4 356.5 325.5 357.0 326.3 357.5 334.2 358.0 349.7 358.6 324.5 359.1 327.2 359.6 341.1 360.1 339.0 360.6 346.2 361.2 346.1 361.7 348.8 362.2 341.9 362.7 352.6 363.2 339.5 363.7 337.9 364.3 328.5 364.8 335.5 365.3 332.8 365.8 329.2 366.3 333.6 366.9 317.9 367.4 322.3 367.9 318.7 368.4 317.1 368.9 307.8 369.4 318.9 370.0 312.2 370.5 312.1 371.0 319.2 371.5 316.6 372.0 301.0 372.6 307.2 373.1 303.6 373.6 308.8 374.1 303.2 374.6 308.6 375.1 308.8 375.7 310.4 376.2 317.0 376.7 310.5 377.2 315.9 377.7 313.3 378.2 320.5 378.8 317.8 379.3 318.6 379.8 316.5 380.3 332.5 380.8 324.0 381.4 317.9 381.9 311.3 382.4 307.9 382.9 304.1 383.4 305.2 383.9 297.0 384.5 286.2 385.0 278.0 385.5 287.1 386.0 277.3 386.5 267.8 387.1 272.0 387.6 283.5 388.1 268.3 388.6 260.8 389.1 262.4 389.6 263.7 390.2 271.1 390.7 277.0 391.2 273.4 391.7 283.3 392.2 280.7 392.8 274.3 393.3 272.1 393.8 297.5 394.3 292.9 394.8 305.7 395.3 285.4 395.9 288.4 396.4 291.1 396.9 290.4 397.4 280.5 397.9 290.1 398.4 272.7 399.0 271.6 399.5 275.4 400.0 265.8 400.5 264.9 401.0 259.9 401.6 249.4 402.1 248.8 402.6 236.3 403.1 238.1 403.6 233.5 404.1 253.4 404.7 238.3 405.2 238.4 405.7 244.6 406.2 254.4 406.7 262.7 407.3 268.6 407.8 252.6 408.3 263.9 408.8 272.3 409.3 268.9 409.8 287.7 410.4 277.7 410.9 272.4 411.4 261.9 411.9 275.6 412.4 273.0 413.0 277.9 413.5 266.7 414.0 259.3 414.5 266.9 415.0 266.4 415.5 260.8 416.1 271.0 416.6 274.2 417.1 256.9 417.6 256.0 418.1 262.9 418.7 259.4 419.2 273.3 419.7 255.5 420.2 259.9 420.7 266.1 421.2 271.5 421.8 272.1 422.3 273.2 422.8 277.5 423.3 275.3 423.8 280.5 424.4 275.5 424.9 283.0 425.4 289.3 425.9 286.7 426.4 288.6 426.9 295.9 427.5 296.3 428.0 286.4 428.5 295.7 429.0 299.3 429.5 293.9 430.0 302.8 430.6 297.7 431.1 303.9 431.6 300.8 432.1 302.1 432.6 303.6 433.2 300.7 433.7 311.0 434.2 308.2 434.7 306.6 435.2 308.9 435.7 321.0 436.3 315.5 436.8 311.2 437.3 315.3 437.8 313.6 438.3 328.8 438.9 319.6 439.4 325.0 439.9 330.4 440.4 332.9 440.9 328.8 441.4 331.1 442.0 333.9 442.5 323.5 443.0 320.7 443.5 334.3 444.0 330.2 444.6 330.0 445.1 335.6 445.6 322.4 446.1 331.3 446.6 327.6 447.1 333.2 447.7 343.1 448.2 334.1 448.7 337.4 449.2 340.6 449.7 341.5 450.2 340.3 450.8 333.0 451.3 341.5 451.8 338.7 452.3 344.5 452.8 339.7 453.4 349.4 453.9 356.3 454.4 337.2 454.9 345.6 455.4 353.5 455.9 343.9 456.5 343.9 457.0 351.5 457.5 354.8 458.0 344.0 458.5 349.9 459.1 364.6 459.6 356.3 460.1 347.7 460.6 356.2 461.1 353.1 461.6 353.1 462.2 351.8 462.7 355.1 463.2 362.3 463.7 354.0 464.2 361.5 464.8 364.6 465.3 354.9 465.8 357.4 466.3 360.4 466.8 357.9 467.3 359.7 467.9 353.6 468.4 368.2 468.9 365.2 469.4 354.3 469.9 361.1 470.5 366.4 471.0 361.2 471.5 370.2 472.0 365.6 472.5 356.4 473.0 368.7 473.6 369.9 474.1 369.3 474.6 363.5 475.1 366.7 475.6 366.6 476.2 369.1 476.7 366.1 477.2 357.0 477.7 365.2 478.2 366.5 478.7 359.2 479.3 375.9 479.8 369.3 480.3 367.3 480.8 364.8 481.3 374.9 481.8 376.5 482.4 366.3 482.9 377.8 483.4 380.4 483.9 381.0 484.4 365.7 485.0 377.4 485.5 371.7 486.0 370.1 486.5 366.7 487.0 376.4 487.5 376.6 488.1 378.7 488.6 374.3 489.1 378.0 489.6 375.0 490.1 379.0 490.7 375.4 491.2 374.8 491.7 375.9 492.2 378.9 492.7 375.4 493.2 380.4 493.8 382.7 494.3 381.6 494.8 374.5 495.3 370.9 495.8 378.7 496.4 378.4 496.9 373.8 497.4 372.2 497.9 373.8 498.4 380.2 498.9 381.0 499.5 376.8 500.0 375.0 500.5 373.7 501.0 373.9 501.5 375.9 502.1 382.8 502.6 382.0 503.1 374.2 503.6 382.9 504.1 377.3 504.6 380.8 505.2 384.4 505.7 382.2 506.2 377.1 506.7 378.0 507.2 391.7 507.7 381.1 508.3 384.0 508.8 381.1 509.3 382.0 509.8 374.9 510.3 382.5 510.9 380.3 511.4 376.5 511.9 382.3 512.4 378.1 512.9 380.4 513.4 383.0 514.0 385.3 514.5 380.7 515.0 382.7 515.5 383.8 516.0 383.3 516.6 386.8 517.1 373.9 517.6 384.2 518.1 387.6 518.6 389.1 519.1 386.1 519.7 380.4 520.2 385.4 520.7 379.7 521.2 392.7 521.7 381.3 522.3 387.4 522.8 384.1 523.3 388.0 523.8 382.4 524.3 386.0 524.8 392.2 525.4 383.7 525.9 383.6 526.4 383.7 526.9 390.0 527.4 384.1 528.0 380.0 528.5 390.1 529.0 399.8 529.5 391.5 530.0 392.2 530.5 388.6 531.1 391.4 531.6 393.1 532.1 383.6 532.6 391.5 533.1 388.8 533.6 381.1 534.2 387.9 534.7 391.9 535.2 381.8 535.7 388.1 536.2 396.6 536.8 381.7 537.3 387.8 537.8 382.7 538.3 390.6 538.8 386.9 539.3 394.2 539.9 394.0 540.4 390.4 540.9 388.1 541.4 387.7 541.9 389.4 542.5 391.6 543.0 377.3 543.5 396.6 544.0 389.9 544.5 390.5 545.0 388.5 545.6 398.3 546.1 387.3 546.6 390.4 547.1 389.4 547.6 386.0 548.2 393.0 548.7 384.9 549.2 389.4 549.7 383.1 550.2 393.2 550.7 389.1 551.3 391.6 551.8 391.8 552.3 387.8 552.8 397.4 553.3 395.1 553.9 397.9 554.4 388.3 554.9 386.1 555.4 389.9 555.9 390.9 556.4 394.6 557.0 393.7 557.5 392.4 558.0 390.6 558.5 388.4 559.0 389.3 559.5 393.9 560.1 403.9 560.6 395.6 561.1 400.1 561.6 391.6 562.1 395.7 562.7 398.8 563.2 393.2 563.7 399.2 564.2 386.8 564.7 392.2 565.2 402.6 565.8 393.2 566.3 394.7 566.8 398.7 567.3 396.6 567.8 392.3 568.4 395.2 568.9 393.3 569.4 401.6 569.9 393.1 570.4 393.7 570.9 402.5 571.5 393.3 572.0 402.5 572.5 398.3 573.0 394.5 573.5 395.8 574.1 398.0 574.6 407.1 575.1 397.9 575.6 401.1 576.1 403.8 576.6 393.4 577.2 399.8 577.7 393.5 578.2 383.0 578.7 399.8 579.2 395.4 579.8 400.2 580.3 394.9 580.8 404.1 581.3 399.0 581.8 392.0 582.3 399.8 582.9 400.7 583.4 403.6 583.9 404.0 584.4 397.0 584.9 396.5 585.4 396.4 586.0 390.6 586.5 402.7 587.0 394.2 587.5 397.4 588.0 391.4 588.6 404.5 589.1 395.6 589.6 404.0 590.1 401.7 590.6 394.1 591.1 401.2 591.7 392.2 592.2 400.7 592.7 401.7 593.2 399.7 593.7 403.2 594.3 392.6 594.8 391.3 595.3 396.8 595.8 398.8 596.3 400.8 596.8 396.3 597.4 399.9 597.9 404.4 598.4 393.3 598.9 392.3 599.4 398.8 600.0 400.0 600.5 408.3 601.0 392.3 601.5 398.7 602.0 407.8 602.5 406.2 603.1 401.4 603.6 393.6 604.1 392.0 604.6 405.0 605.1 394.4 605.7 391.0 606.2 402.7 606.7 410.9 607.2 396.5 607.7 403.6 608.2 401.6 608.8 403.3 609.3 392.6 609.8 396.8 610.3 397.4 610.8 404.5 611.3 394.7" stroke="#ff0000" stroke-width="2.6" fill="none" stroke-linejoin="miter"/>

</g>
<g stroke="#000" stroke-width="1.6" fill="none">
<rect x="126.8" y="0.8" width="485" height="485" stroke-width="1.8"/>
</g>
<g stroke="#000" stroke-width="1.6">
<line x1="127" y1="48.9" x2="137" y2="48.9"/>
<line x1="127" y1="97.5" x2="137" y2="97.5"/>
<line x1="127" y1="146.1" x2="137" y2="146.1"/>
<line x1="127" y1="194.7" x2="137" y2="194.7"/>
<line x1="127" y1="243.3" x2="137" y2="243.3"/>
<line x1="127" y1="291.9" x2="137" y2="291.9"/>
<line x1="127" y1="340.5" x2="137" y2="340.5"/>
<line x1="127" y1="389.1" x2="137" y2="389.1"/>
<line x1="127" y1="437.7" x2="137" y2="437.7"/>
<line x1="178.3" y1="486" x2="178.3" y2="476.5"/>
<line x1="230.1" y1="486" x2="230.1" y2="476.5"/>
<line x1="281.9" y1="486" x2="281.9" y2="476.5"/>
<line x1="333.7" y1="486" x2="333.7" y2="476.5"/>
<line x1="385.5" y1="486" x2="385.5" y2="476.5"/>
<line x1="437.3" y1="486" x2="437.3" y2="476.5"/>
<line x1="489.1" y1="486" x2="489.1" y2="476.5"/>
<line x1="540.9" y1="486" x2="540.9" y2="476.5"/>
<line x1="592.7" y1="486" x2="592.7" y2="476.5"/>
</g>
<g font-size="31" text-anchor="end">
<text x="113.5" y="59.4">640</text>
<text x="113.5" y="156.6">620</text>
<text x="113.5" y="253.8">600</text>
<text x="113.5" y="351">580</text>
<text x="113.5" y="448.2">560</text>
</g>
<g font-size="31" text-anchor="middle">
<text x="126.5" y="521.7">0</text>
<text x="230.1" y="521.7">0.1</text>
<text x="333.7" y="521.7">0.2</text>
<text x="437.3" y="521.7">0.3</text>
<text x="540.9" y="521.7">0.4</text>
</g>
<g font-size="34.5">
<text x="319.6" y="589.5" font-style="italic">u</text>
<text x="346" y="589.5">(</text>
<text x="358.5" y="589.5">A</text>
<text x="384" y="568.5" font-size="25">-</text>
<text x="393" y="568.5" font-size="25">1</text>
<text x="405" y="589.5">)</text>
</g>
<circle cx="371.5" cy="561.2" r="2.9" fill="none" stroke="#000" stroke-width="1.3"/>
<g font-size="34.5">
<text transform="translate(24.8,304.6) rotate(-90)" font-style="italic" font-size="35">W</text>
<text transform="translate(39.2,273.5) rotate(-90)" font-size="23">M,m</text>
<text transform="translate(24.6,225.5) rotate(-90)">(</text>
<text transform="translate(24.6,213) rotate(-90)" font-style="italic">u</text>
<text transform="translate(24.6,196.5) rotate(-90)">)</text>
</g>
</svg>
</body></html>
